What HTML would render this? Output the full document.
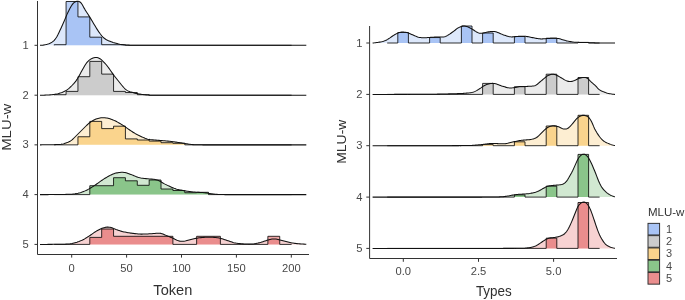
<!DOCTYPE html>
<html><head><meta charset="utf-8"><title>Ridgeline</title>
<style>
html,body{margin:0;padding:0;background:#fff;}
body{width:685px;height:300px;overflow:hidden;}
svg{display:block}
text{font-family:"Liberation Sans",sans-serif;}
.tk{font-size:10px;fill:#484848;}
.ttl{fill:#303030;}
.lt{font-size:11.5px;fill:#333;}
</style></head><body>
<svg width="685" height="300" viewBox="0 0 685 300">
<rect width="685" height="300" fill="#fff"/>
<path d="M40.00,45.30 L41.00,45.30 L42.00,45.25 L43.00,45.13 L44.00,44.98 L45.00,44.80 L46.00,44.60 L47.00,44.37 L48.00,44.07 L49.00,43.70 L50.00,43.25 L51.00,42.74 L52.00,42.14 L53.00,41.45 L54.00,40.57 L55.00,39.44 L56.00,38.06 L57.00,36.41 L58.00,34.50 L59.00,32.43 L60.00,30.32 L61.00,28.16 L62.00,25.96 L63.00,23.72 L64.00,21.44 L65.00,19.09 L66.00,16.71 L67.00,14.40 L68.00,12.24 L69.00,10.23 L70.00,8.30 L71.00,6.50 L72.00,4.92 L73.00,3.60 L74.00,2.60 L75.00,1.94 L76.00,1.52 L77.00,1.29 L78.00,1.26 L79.00,1.47 L80.00,2.01 L81.00,2.93 L82.00,4.30 L83.00,6.04 L84.00,7.88 L85.00,9.60 L86.00,11.19 L87.00,12.76 L88.00,14.32 L89.00,15.90 L90.00,17.50 L91.00,19.14 L92.00,20.80 L93.00,22.48 L94.00,24.17 L95.00,25.85 L96.00,27.50 L97.00,29.11 L98.00,30.65 L99.00,32.11 L100.00,33.50 L101.00,34.80 L102.00,36.00 L103.00,37.08 L104.00,38.01 L105.00,38.80 L106.00,39.48 L107.00,40.04 L108.00,40.50 L109.00,40.91 L110.00,41.31 L111.00,41.69 L112.00,42.05 L113.00,42.39 L114.00,42.70 L115.00,43.00 L116.00,43.29 L117.00,43.58 L118.00,43.85 L119.00,44.09 L120.00,44.30 L121.00,44.47 L122.00,44.62 L123.00,44.75 L124.00,44.86 L125.00,44.94 L126.00,45.00 L127.00,45.05 L128.00,45.09 L129.00,45.14 L130.00,45.18 L131.00,45.21 L132.00,45.24 L133.00,45.27 L134.00,45.29 L135.00,45.30 L136.00,45.30 L137.00,45.30 L138.00,45.30 L139.00,45.30 L140.00,45.30 L141.00,45.30 L142.00,45.30 L143.00,45.30 L144.00,45.30 L145.00,45.30 L146.00,45.30 L147.00,45.30 L148.00,45.30 L149.00,45.30 L150.00,45.30 L151.00,45.30 L152.00,45.30 L153.00,45.30 L154.00,45.30 L155.00,45.30 L156.00,45.30 L157.00,45.30 L158.00,45.30 L159.00,45.30 L160.00,45.30 L161.00,45.30 L162.00,45.30 L163.00,45.30 L164.00,45.30 L165.00,45.30 L166.00,45.30 L167.00,45.30 L168.00,45.30 L169.00,45.30 L170.00,45.30 L171.00,45.30 L172.00,45.30 L173.00,45.30 L174.00,45.30 L175.00,45.30 L176.00,45.30 L177.00,45.30 L178.00,45.30 L179.00,45.30 L180.00,45.30 L181.00,45.30 L182.00,45.30 L183.00,45.30 L184.00,45.30 L185.00,45.30 L186.00,45.30 L187.00,45.30 L188.00,45.30 L189.00,45.30 L190.00,45.30 L191.00,45.30 L192.00,45.30 L193.00,45.30 L194.00,45.30 L195.00,45.30 L196.00,45.30 L197.00,45.30 L198.00,45.30 L199.00,45.30 L200.00,45.30 L201.00,45.30 L202.00,45.30 L203.00,45.30 L204.00,45.30 L205.00,45.30 L206.00,45.30 L207.00,45.30 L208.00,45.30 L209.00,45.30 L210.00,45.30 L211.00,45.30 L212.00,45.30 L213.00,45.30 L214.00,45.30 L215.00,45.30 L216.00,45.30 L217.00,45.30 L218.00,45.30 L219.00,45.30 L220.00,45.30 L221.00,45.30 L222.00,45.30 L223.00,45.30 L224.00,45.30 L225.00,45.30 L226.00,45.30 L227.00,45.30 L228.00,45.30 L229.00,45.30 L230.00,45.30 L231.00,45.30 L232.00,45.30 L233.00,45.30 L234.00,45.30 L235.00,45.30 L236.00,45.30 L237.00,45.30 L238.00,45.30 L239.00,45.30 L240.00,45.30 L241.00,45.30 L242.00,45.30 L243.00,45.30 L244.00,45.30 L245.00,45.30 L246.00,45.30 L247.00,45.30 L248.00,45.30 L249.00,45.30 L250.00,45.30 L251.00,45.30 L252.00,45.30 L253.00,45.30 L254.00,45.30 L255.00,45.30 L256.00,45.30 L257.00,45.30 L258.00,45.30 L259.00,45.30 L260.00,45.30 L261.00,45.30 L262.00,45.30 L263.00,45.30 L264.00,45.30 L265.00,45.30 L266.00,45.30 L267.00,45.30 L268.00,45.30 L269.00,45.30 L270.00,45.30 L271.00,45.30 L272.00,45.30 L273.00,45.30 L274.00,45.30 L275.00,45.30 L276.00,45.30 L277.00,45.30 L278.00,45.30 L279.00,45.30 L280.00,45.30 L281.00,45.30 L282.00,45.30 L283.00,45.30 L284.00,45.30 L285.00,45.30 L286.00,45.30 L287.00,45.30 L288.00,45.30 L289.00,45.30 L290.00,45.30 L291.00,45.30 L292.00,45.30 L293.00,45.30 L294.00,45.30 L295.00,45.30 L296.00,45.30 L297.00,45.30 L298.00,45.30 L299.00,45.30 L300.00,45.30 L301.00,45.30 L302.00,45.30 L303.00,45.30 L304.00,45.30 L305.00,45.30 L306.00,45.30 L306.30,45.30 L306.30,45.30 L40.00,45.30 Z" fill="rgb(100,149,237)" fill-opacity="0.22" stroke="none"/>
<path d="M54.20,45.30 L54.20,45.30 L54.20,44.70 L66.07,44.70 L66.07,1.50 L77.94,1.50 L77.94,16.90 L89.81,16.90 L89.81,37.20 L101.68,37.20 L101.68,44.70 L125.42,44.70 L125.42,45.30 L291.60,45.30 Z" fill="rgb(100,149,237)" fill-opacity="0.43" stroke="none"/>
<path d="M54.20,45.30 L54.20,45.30 L54.20,44.70 L66.07,44.70 L66.07,1.50 L77.94,1.50 L77.94,16.90 L89.81,16.90 L89.81,37.20 L101.68,37.20 L101.68,44.70 L125.42,44.70 L125.42,45.30 L291.60,45.30" fill="none" stroke="#000" stroke-opacity="0.8" stroke-width="1" stroke-linejoin="miter"/>
<path d="M40.00,45.30 L41.00,45.30 L42.00,45.25 L43.00,45.13 L44.00,44.98 L45.00,44.80 L46.00,44.60 L47.00,44.37 L48.00,44.07 L49.00,43.70 L50.00,43.25 L51.00,42.74 L52.00,42.14 L53.00,41.45 L54.00,40.57 L55.00,39.44 L56.00,38.06 L57.00,36.41 L58.00,34.50 L59.00,32.43 L60.00,30.32 L61.00,28.16 L62.00,25.96 L63.00,23.72 L64.00,21.44 L65.00,19.09 L66.00,16.71 L67.00,14.40 L68.00,12.24 L69.00,10.23 L70.00,8.30 L71.00,6.50 L72.00,4.92 L73.00,3.60 L74.00,2.60 L75.00,1.94 L76.00,1.52 L77.00,1.29 L78.00,1.26 L79.00,1.47 L80.00,2.01 L81.00,2.93 L82.00,4.30 L83.00,6.04 L84.00,7.88 L85.00,9.60 L86.00,11.19 L87.00,12.76 L88.00,14.32 L89.00,15.90 L90.00,17.50 L91.00,19.14 L92.00,20.80 L93.00,22.48 L94.00,24.17 L95.00,25.85 L96.00,27.50 L97.00,29.11 L98.00,30.65 L99.00,32.11 L100.00,33.50 L101.00,34.80 L102.00,36.00 L103.00,37.08 L104.00,38.01 L105.00,38.80 L106.00,39.48 L107.00,40.04 L108.00,40.50 L109.00,40.91 L110.00,41.31 L111.00,41.69 L112.00,42.05 L113.00,42.39 L114.00,42.70 L115.00,43.00 L116.00,43.29 L117.00,43.58 L118.00,43.85 L119.00,44.09 L120.00,44.30 L121.00,44.47 L122.00,44.62 L123.00,44.75 L124.00,44.86 L125.00,44.94 L126.00,45.00 L127.00,45.05 L128.00,45.09 L129.00,45.14 L130.00,45.18 L131.00,45.21 L132.00,45.24 L133.00,45.27 L134.00,45.29 L135.00,45.30 L136.00,45.30 L137.00,45.30 L138.00,45.30 L139.00,45.30 L140.00,45.30 L141.00,45.30 L142.00,45.30 L143.00,45.30 L144.00,45.30 L145.00,45.30 L146.00,45.30 L147.00,45.30 L148.00,45.30 L149.00,45.30 L150.00,45.30 L151.00,45.30 L152.00,45.30 L153.00,45.30 L154.00,45.30 L155.00,45.30 L156.00,45.30 L157.00,45.30 L158.00,45.30 L159.00,45.30 L160.00,45.30 L161.00,45.30 L162.00,45.30 L163.00,45.30 L164.00,45.30 L165.00,45.30 L166.00,45.30 L167.00,45.30 L168.00,45.30 L169.00,45.30 L170.00,45.30 L171.00,45.30 L172.00,45.30 L173.00,45.30 L174.00,45.30 L175.00,45.30 L176.00,45.30 L177.00,45.30 L178.00,45.30 L179.00,45.30 L180.00,45.30 L181.00,45.30 L182.00,45.30 L183.00,45.30 L184.00,45.30 L185.00,45.30 L186.00,45.30 L187.00,45.30 L188.00,45.30 L189.00,45.30 L190.00,45.30 L191.00,45.30 L192.00,45.30 L193.00,45.30 L194.00,45.30 L195.00,45.30 L196.00,45.30 L197.00,45.30 L198.00,45.30 L199.00,45.30 L200.00,45.30 L201.00,45.30 L202.00,45.30 L203.00,45.30 L204.00,45.30 L205.00,45.30 L206.00,45.30 L207.00,45.30 L208.00,45.30 L209.00,45.30 L210.00,45.30 L211.00,45.30 L212.00,45.30 L213.00,45.30 L214.00,45.30 L215.00,45.30 L216.00,45.30 L217.00,45.30 L218.00,45.30 L219.00,45.30 L220.00,45.30 L221.00,45.30 L222.00,45.30 L223.00,45.30 L224.00,45.30 L225.00,45.30 L226.00,45.30 L227.00,45.30 L228.00,45.30 L229.00,45.30 L230.00,45.30 L231.00,45.30 L232.00,45.30 L233.00,45.30 L234.00,45.30 L235.00,45.30 L236.00,45.30 L237.00,45.30 L238.00,45.30 L239.00,45.30 L240.00,45.30 L241.00,45.30 L242.00,45.30 L243.00,45.30 L244.00,45.30 L245.00,45.30 L246.00,45.30 L247.00,45.30 L248.00,45.30 L249.00,45.30 L250.00,45.30 L251.00,45.30 L252.00,45.30 L253.00,45.30 L254.00,45.30 L255.00,45.30 L256.00,45.30 L257.00,45.30 L258.00,45.30 L259.00,45.30 L260.00,45.30 L261.00,45.30 L262.00,45.30 L263.00,45.30 L264.00,45.30 L265.00,45.30 L266.00,45.30 L267.00,45.30 L268.00,45.30 L269.00,45.30 L270.00,45.30 L271.00,45.30 L272.00,45.30 L273.00,45.30 L274.00,45.30 L275.00,45.30 L276.00,45.30 L277.00,45.30 L278.00,45.30 L279.00,45.30 L280.00,45.30 L281.00,45.30 L282.00,45.30 L283.00,45.30 L284.00,45.30 L285.00,45.30 L286.00,45.30 L287.00,45.30 L288.00,45.30 L289.00,45.30 L290.00,45.30 L291.00,45.30 L292.00,45.30 L293.00,45.30 L294.00,45.30 L295.00,45.30 L296.00,45.30 L297.00,45.30 L298.00,45.30 L299.00,45.30 L300.00,45.30 L301.00,45.30 L302.00,45.30 L303.00,45.30 L304.00,45.30 L305.00,45.30 L306.00,45.30 L306.30,45.30" fill="none" stroke="#111" stroke-width="1.05" stroke-linejoin="round"/>
<path d="M40.00,95.20 L41.00,95.20 L42.00,95.20 L43.00,95.19 L44.00,95.16 L45.00,95.13 L46.00,95.09 L47.00,95.05 L48.00,95.00 L49.00,94.94 L50.00,94.87 L51.00,94.78 L52.00,94.68 L53.00,94.56 L54.00,94.44 L55.00,94.30 L56.00,94.14 L57.00,93.92 L58.00,93.68 L59.00,93.40 L60.00,93.11 L61.00,92.80 L62.00,92.45 L63.00,92.04 L64.00,91.58 L65.00,91.06 L66.00,90.50 L67.00,89.87 L68.00,89.14 L69.00,88.33 L70.00,87.44 L71.00,86.50 L72.00,85.50 L73.00,84.46 L74.00,83.36 L75.00,82.17 L76.00,80.86 L77.00,79.42 L78.00,77.80 L79.00,76.03 L80.00,74.18 L81.00,72.31 L82.00,70.50 L83.00,68.74 L84.00,67.01 L85.00,65.33 L86.00,63.74 L87.00,62.39 L88.00,61.29 L89.00,60.38 L90.00,59.60 L91.00,58.93 L92.00,58.40 L93.00,58.00 L94.00,57.72 L95.00,57.55 L96.00,57.50 L97.00,57.58 L98.00,57.82 L99.00,58.20 L100.00,58.74 L101.00,59.43 L102.00,60.30 L103.00,61.28 L104.00,62.30 L105.00,63.37 L106.00,64.51 L107.00,65.71 L108.00,67.00 L109.00,68.37 L110.00,69.79 L111.00,71.23 L112.00,72.67 L113.00,74.09 L114.00,75.44 L115.00,76.73 L116.00,78.00 L117.00,79.26 L118.00,80.52 L119.00,81.76 L120.00,83.00 L121.00,84.24 L122.00,85.46 L123.00,86.64 L124.00,87.76 L125.00,88.80 L126.00,89.68 L127.00,90.37 L128.00,90.91 L129.00,91.34 L130.00,91.69 L131.00,92.00 L132.00,92.31 L133.00,92.61 L134.00,92.89 L135.00,93.16 L136.00,93.40 L137.00,93.60 L138.00,93.78 L139.00,93.96 L140.00,94.14 L141.00,94.30 L142.00,94.45 L143.00,94.58 L144.00,94.70 L145.00,94.80 L146.00,94.89 L147.00,94.98 L148.00,95.05 L149.00,95.11 L150.00,95.16 L151.00,95.20 L152.00,95.20 L153.00,95.20 L154.00,95.20 L155.00,95.20 L156.00,95.20 L157.00,95.20 L158.00,95.20 L159.00,95.20 L160.00,95.20 L161.00,95.20 L162.00,95.20 L163.00,95.20 L164.00,95.20 L165.00,95.20 L166.00,95.20 L167.00,95.20 L168.00,95.20 L169.00,95.20 L170.00,95.20 L171.00,95.20 L172.00,95.20 L173.00,95.20 L174.00,95.20 L175.00,95.20 L176.00,95.20 L177.00,95.20 L178.00,95.20 L179.00,95.20 L180.00,95.20 L181.00,95.20 L182.00,95.20 L183.00,95.20 L184.00,95.20 L185.00,95.20 L186.00,95.20 L187.00,95.20 L188.00,95.20 L189.00,95.20 L190.00,95.20 L191.00,95.20 L192.00,95.20 L193.00,95.20 L194.00,95.20 L195.00,95.20 L196.00,95.20 L197.00,95.20 L198.00,95.20 L199.00,95.20 L200.00,95.20 L201.00,95.20 L202.00,95.20 L203.00,95.20 L204.00,95.20 L205.00,95.20 L206.00,95.20 L207.00,95.20 L208.00,95.20 L209.00,95.20 L210.00,95.20 L211.00,95.20 L212.00,95.20 L213.00,95.20 L214.00,95.20 L215.00,95.20 L216.00,95.20 L217.00,95.20 L218.00,95.20 L219.00,95.20 L220.00,95.20 L221.00,95.20 L222.00,95.20 L223.00,95.20 L224.00,95.20 L225.00,95.20 L226.00,95.20 L227.00,95.20 L228.00,95.20 L229.00,95.20 L230.00,95.20 L231.00,95.20 L232.00,95.20 L233.00,95.20 L234.00,95.20 L235.00,95.20 L236.00,95.20 L237.00,95.20 L238.00,95.20 L239.00,95.20 L240.00,95.20 L241.00,95.20 L242.00,95.20 L243.00,95.20 L244.00,95.20 L245.00,95.20 L246.00,95.20 L247.00,95.20 L248.00,95.20 L249.00,95.20 L250.00,95.20 L251.00,95.20 L252.00,95.20 L253.00,95.20 L254.00,95.20 L255.00,95.20 L256.00,95.20 L257.00,95.20 L258.00,95.20 L259.00,95.20 L260.00,95.20 L261.00,95.20 L262.00,95.20 L263.00,95.20 L264.00,95.20 L265.00,95.20 L266.00,95.20 L267.00,95.20 L268.00,95.20 L269.00,95.20 L270.00,95.20 L271.00,95.20 L272.00,95.20 L273.00,95.20 L274.00,95.20 L275.00,95.20 L276.00,95.20 L277.00,95.20 L278.00,95.20 L279.00,95.20 L280.00,95.20 L281.00,95.20 L282.00,95.20 L283.00,95.20 L284.00,95.20 L285.00,95.20 L286.00,95.20 L287.00,95.20 L288.00,95.20 L289.00,95.20 L290.00,95.20 L291.00,95.20 L292.00,95.20 L293.00,95.20 L294.00,95.20 L295.00,95.20 L296.00,95.20 L297.00,95.20 L298.00,95.20 L299.00,95.20 L300.00,95.20 L301.00,95.20 L302.00,95.20 L303.00,95.20 L304.00,95.20 L305.00,95.20 L306.00,95.20 L306.30,95.20 L306.30,95.20 L40.00,95.20 Z" fill="rgb(163,163,163)" fill-opacity="0.22" stroke="none"/>
<path d="M54.20,95.20 L54.20,95.20 L54.20,94.70 L66.07,94.70 L66.07,91.40 L77.94,91.40 L77.94,76.70 L89.81,76.70 L89.81,61.40 L101.68,61.40 L101.68,74.10 L113.55,74.10 L113.55,91.40 L125.42,91.40 L125.42,92.50 L137.29,92.50 L137.29,94.70 L149.16,94.70 L149.16,95.20 L291.60,95.20 Z" fill="rgb(163,163,163)" fill-opacity="0.43" stroke="none"/>
<path d="M54.20,95.20 L54.20,95.20 L54.20,94.70 L66.07,94.70 L66.07,91.40 L77.94,91.40 L77.94,76.70 L89.81,76.70 L89.81,61.40 L101.68,61.40 L101.68,74.10 L113.55,74.10 L113.55,91.40 L125.42,91.40 L125.42,92.50 L137.29,92.50 L137.29,94.70 L149.16,94.70 L149.16,95.20 L291.60,95.20" fill="none" stroke="#000" stroke-opacity="0.8" stroke-width="1" stroke-linejoin="miter"/>
<path d="M40.00,95.20 L41.00,95.20 L42.00,95.20 L43.00,95.19 L44.00,95.16 L45.00,95.13 L46.00,95.09 L47.00,95.05 L48.00,95.00 L49.00,94.94 L50.00,94.87 L51.00,94.78 L52.00,94.68 L53.00,94.56 L54.00,94.44 L55.00,94.30 L56.00,94.14 L57.00,93.92 L58.00,93.68 L59.00,93.40 L60.00,93.11 L61.00,92.80 L62.00,92.45 L63.00,92.04 L64.00,91.58 L65.00,91.06 L66.00,90.50 L67.00,89.87 L68.00,89.14 L69.00,88.33 L70.00,87.44 L71.00,86.50 L72.00,85.50 L73.00,84.46 L74.00,83.36 L75.00,82.17 L76.00,80.86 L77.00,79.42 L78.00,77.80 L79.00,76.03 L80.00,74.18 L81.00,72.31 L82.00,70.50 L83.00,68.74 L84.00,67.01 L85.00,65.33 L86.00,63.74 L87.00,62.39 L88.00,61.29 L89.00,60.38 L90.00,59.60 L91.00,58.93 L92.00,58.40 L93.00,58.00 L94.00,57.72 L95.00,57.55 L96.00,57.50 L97.00,57.58 L98.00,57.82 L99.00,58.20 L100.00,58.74 L101.00,59.43 L102.00,60.30 L103.00,61.28 L104.00,62.30 L105.00,63.37 L106.00,64.51 L107.00,65.71 L108.00,67.00 L109.00,68.37 L110.00,69.79 L111.00,71.23 L112.00,72.67 L113.00,74.09 L114.00,75.44 L115.00,76.73 L116.00,78.00 L117.00,79.26 L118.00,80.52 L119.00,81.76 L120.00,83.00 L121.00,84.24 L122.00,85.46 L123.00,86.64 L124.00,87.76 L125.00,88.80 L126.00,89.68 L127.00,90.37 L128.00,90.91 L129.00,91.34 L130.00,91.69 L131.00,92.00 L132.00,92.31 L133.00,92.61 L134.00,92.89 L135.00,93.16 L136.00,93.40 L137.00,93.60 L138.00,93.78 L139.00,93.96 L140.00,94.14 L141.00,94.30 L142.00,94.45 L143.00,94.58 L144.00,94.70 L145.00,94.80 L146.00,94.89 L147.00,94.98 L148.00,95.05 L149.00,95.11 L150.00,95.16 L151.00,95.20 L152.00,95.20 L153.00,95.20 L154.00,95.20 L155.00,95.20 L156.00,95.20 L157.00,95.20 L158.00,95.20 L159.00,95.20 L160.00,95.20 L161.00,95.20 L162.00,95.20 L163.00,95.20 L164.00,95.20 L165.00,95.20 L166.00,95.20 L167.00,95.20 L168.00,95.20 L169.00,95.20 L170.00,95.20 L171.00,95.20 L172.00,95.20 L173.00,95.20 L174.00,95.20 L175.00,95.20 L176.00,95.20 L177.00,95.20 L178.00,95.20 L179.00,95.20 L180.00,95.20 L181.00,95.20 L182.00,95.20 L183.00,95.20 L184.00,95.20 L185.00,95.20 L186.00,95.20 L187.00,95.20 L188.00,95.20 L189.00,95.20 L190.00,95.20 L191.00,95.20 L192.00,95.20 L193.00,95.20 L194.00,95.20 L195.00,95.20 L196.00,95.20 L197.00,95.20 L198.00,95.20 L199.00,95.20 L200.00,95.20 L201.00,95.20 L202.00,95.20 L203.00,95.20 L204.00,95.20 L205.00,95.20 L206.00,95.20 L207.00,95.20 L208.00,95.20 L209.00,95.20 L210.00,95.20 L211.00,95.20 L212.00,95.20 L213.00,95.20 L214.00,95.20 L215.00,95.20 L216.00,95.20 L217.00,95.20 L218.00,95.20 L219.00,95.20 L220.00,95.20 L221.00,95.20 L222.00,95.20 L223.00,95.20 L224.00,95.20 L225.00,95.20 L226.00,95.20 L227.00,95.20 L228.00,95.20 L229.00,95.20 L230.00,95.20 L231.00,95.20 L232.00,95.20 L233.00,95.20 L234.00,95.20 L235.00,95.20 L236.00,95.20 L237.00,95.20 L238.00,95.20 L239.00,95.20 L240.00,95.20 L241.00,95.20 L242.00,95.20 L243.00,95.20 L244.00,95.20 L245.00,95.20 L246.00,95.20 L247.00,95.20 L248.00,95.20 L249.00,95.20 L250.00,95.20 L251.00,95.20 L252.00,95.20 L253.00,95.20 L254.00,95.20 L255.00,95.20 L256.00,95.20 L257.00,95.20 L258.00,95.20 L259.00,95.20 L260.00,95.20 L261.00,95.20 L262.00,95.20 L263.00,95.20 L264.00,95.20 L265.00,95.20 L266.00,95.20 L267.00,95.20 L268.00,95.20 L269.00,95.20 L270.00,95.20 L271.00,95.20 L272.00,95.20 L273.00,95.20 L274.00,95.20 L275.00,95.20 L276.00,95.20 L277.00,95.20 L278.00,95.20 L279.00,95.20 L280.00,95.20 L281.00,95.20 L282.00,95.20 L283.00,95.20 L284.00,95.20 L285.00,95.20 L286.00,95.20 L287.00,95.20 L288.00,95.20 L289.00,95.20 L290.00,95.20 L291.00,95.20 L292.00,95.20 L293.00,95.20 L294.00,95.20 L295.00,95.20 L296.00,95.20 L297.00,95.20 L298.00,95.20 L299.00,95.20 L300.00,95.20 L301.00,95.20 L302.00,95.20 L303.00,95.20 L304.00,95.20 L305.00,95.20 L306.00,95.20 L306.30,95.20" fill="none" stroke="#111" stroke-width="1.05" stroke-linejoin="round"/>
<path d="M40.00,144.85 L41.00,144.85 L42.00,144.84 L43.00,144.84 L44.00,144.82 L45.00,144.81 L46.00,144.80 L47.00,144.78 L48.00,144.77 L49.00,144.75 L50.00,144.73 L51.00,144.72 L52.00,144.70 L53.00,144.68 L54.00,144.66 L55.00,144.62 L56.00,144.59 L57.00,144.55 L58.00,144.50 L59.00,144.45 L60.00,144.40 L61.00,144.31 L62.00,144.14 L63.00,143.92 L64.00,143.64 L65.00,143.31 L66.00,142.96 L67.00,142.59 L68.00,142.18 L69.00,141.73 L70.00,141.21 L71.00,140.60 L72.00,139.86 L73.00,138.99 L74.00,138.00 L75.00,137.00 L76.00,136.00 L77.00,135.00 L78.00,134.00 L79.00,133.00 L80.00,132.00 L81.00,131.00 L82.00,130.00 L83.00,129.00 L84.00,128.00 L85.00,127.00 L86.00,126.00 L87.00,125.01 L88.00,124.10 L89.00,123.28 L90.00,122.52 L91.00,121.78 L92.00,121.09 L93.00,120.48 L94.00,119.93 L95.00,119.47 L96.00,119.07 L97.00,118.73 L98.00,118.44 L99.00,118.20 L100.00,118.00 L101.00,117.84 L102.00,117.72 L103.00,117.68 L104.00,117.70 L105.00,117.79 L106.00,117.92 L107.00,118.09 L108.00,118.30 L109.00,118.56 L110.00,118.86 L111.00,119.21 L112.00,119.58 L113.00,119.97 L114.00,120.39 L115.00,120.84 L116.00,121.32 L117.00,121.84 L118.00,122.39 L119.00,122.95 L120.00,123.52 L121.00,124.11 L122.00,124.72 L123.00,125.35 L124.00,126.00 L125.00,126.68 L126.00,127.38 L127.00,128.10 L128.00,128.82 L129.00,129.54 L130.00,130.23 L131.00,130.90 L132.00,131.55 L133.00,132.19 L134.00,132.81 L135.00,133.42 L136.00,134.00 L137.00,134.54 L138.00,135.05 L139.00,135.53 L140.00,136.00 L141.00,136.46 L142.00,136.91 L143.00,137.36 L144.00,137.79 L145.00,138.20 L146.00,138.58 L147.00,138.91 L148.00,139.18 L149.00,139.39 L150.00,139.55 L151.00,139.66 L152.00,139.76 L153.00,139.86 L154.00,139.96 L155.00,140.05 L156.00,140.13 L157.00,140.22 L158.00,140.30 L159.00,140.38 L160.00,140.45 L161.00,140.53 L162.00,140.60 L163.00,140.67 L164.00,140.75 L165.00,140.83 L166.00,140.92 L167.00,141.01 L168.00,141.11 L169.00,141.22 L170.00,141.33 L171.00,141.45 L172.00,141.57 L173.00,141.70 L174.00,141.83 L175.00,141.97 L176.00,142.11 L177.00,142.26 L178.00,142.40 L179.00,142.55 L180.00,142.70 L181.00,142.85 L182.00,143.01 L183.00,143.18 L184.00,143.35 L185.00,143.52 L186.00,143.68 L187.00,143.84 L188.00,144.00 L189.00,144.15 L190.00,144.29 L191.00,144.42 L192.00,144.54 L193.00,144.64 L194.00,144.72 L195.00,144.77 L196.00,144.80 L197.00,144.81 L198.00,144.82 L199.00,144.83 L200.00,144.84 L201.00,144.84 L202.00,144.85 L203.00,144.85 L204.00,144.85 L205.00,144.85 L206.00,144.85 L207.00,144.85 L208.00,144.85 L209.00,144.85 L210.00,144.85 L211.00,144.85 L212.00,144.85 L213.00,144.85 L214.00,144.85 L215.00,144.85 L216.00,144.85 L217.00,144.85 L218.00,144.85 L219.00,144.85 L220.00,144.85 L221.00,144.85 L222.00,144.85 L223.00,144.85 L224.00,144.85 L225.00,144.85 L226.00,144.85 L227.00,144.85 L228.00,144.85 L229.00,144.85 L230.00,144.85 L231.00,144.85 L232.00,144.85 L233.00,144.85 L234.00,144.85 L235.00,144.85 L236.00,144.85 L237.00,144.85 L238.00,144.85 L239.00,144.85 L240.00,144.85 L241.00,144.85 L242.00,144.85 L243.00,144.85 L244.00,144.85 L245.00,144.85 L246.00,144.85 L247.00,144.85 L248.00,144.85 L249.00,144.85 L250.00,144.85 L251.00,144.85 L252.00,144.85 L253.00,144.85 L254.00,144.85 L255.00,144.85 L256.00,144.85 L257.00,144.85 L258.00,144.85 L259.00,144.85 L260.00,144.85 L261.00,144.85 L262.00,144.85 L263.00,144.85 L264.00,144.85 L265.00,144.85 L266.00,144.85 L267.00,144.85 L268.00,144.85 L269.00,144.85 L270.00,144.85 L271.00,144.85 L272.00,144.85 L273.00,144.85 L274.00,144.85 L275.00,144.85 L276.00,144.85 L277.00,144.85 L278.00,144.85 L279.00,144.85 L280.00,144.85 L281.00,144.85 L282.00,144.85 L283.00,144.85 L284.00,144.85 L285.00,144.85 L286.00,144.85 L287.00,144.85 L288.00,144.85 L289.00,144.85 L290.00,144.85 L291.00,144.85 L292.00,144.85 L293.00,144.85 L294.00,144.85 L295.00,144.85 L296.00,144.85 L297.00,144.85 L298.00,144.85 L299.00,144.85 L300.00,144.85 L301.00,144.85 L302.00,144.85 L303.00,144.85 L304.00,144.85 L305.00,144.85 L306.00,144.85 L306.30,144.85 L306.30,144.85 L40.00,144.85 Z" fill="rgb(246,178,50)" fill-opacity="0.22" stroke="none"/>
<path d="M54.20,144.85 L77.94,144.85 L77.94,136.75 L89.81,136.75 L89.81,121.40 L101.68,121.40 L101.68,128.60 L113.55,128.60 L113.55,126.20 L125.42,126.20 L125.42,138.90 L137.29,138.90 L137.29,140.00 L149.16,140.00 L149.16,141.10 L161.03,141.10 L161.03,142.70 L172.90,142.70 L172.90,143.30 L184.77,143.30 L184.77,144.85 L291.60,144.85 Z" fill="rgb(246,178,50)" fill-opacity="0.43" stroke="none"/>
<path d="M54.20,144.85 L77.94,144.85 L77.94,136.75 L89.81,136.75 L89.81,121.40 L101.68,121.40 L101.68,128.60 L113.55,128.60 L113.55,126.20 L125.42,126.20 L125.42,138.90 L137.29,138.90 L137.29,140.00 L149.16,140.00 L149.16,141.10 L161.03,141.10 L161.03,142.70 L172.90,142.70 L172.90,143.30 L184.77,143.30 L184.77,144.85 L291.60,144.85" fill="none" stroke="#000" stroke-opacity="0.8" stroke-width="1" stroke-linejoin="miter"/>
<path d="M40.00,144.85 L41.00,144.85 L42.00,144.84 L43.00,144.84 L44.00,144.82 L45.00,144.81 L46.00,144.80 L47.00,144.78 L48.00,144.77 L49.00,144.75 L50.00,144.73 L51.00,144.72 L52.00,144.70 L53.00,144.68 L54.00,144.66 L55.00,144.62 L56.00,144.59 L57.00,144.55 L58.00,144.50 L59.00,144.45 L60.00,144.40 L61.00,144.31 L62.00,144.14 L63.00,143.92 L64.00,143.64 L65.00,143.31 L66.00,142.96 L67.00,142.59 L68.00,142.18 L69.00,141.73 L70.00,141.21 L71.00,140.60 L72.00,139.86 L73.00,138.99 L74.00,138.00 L75.00,137.00 L76.00,136.00 L77.00,135.00 L78.00,134.00 L79.00,133.00 L80.00,132.00 L81.00,131.00 L82.00,130.00 L83.00,129.00 L84.00,128.00 L85.00,127.00 L86.00,126.00 L87.00,125.01 L88.00,124.10 L89.00,123.28 L90.00,122.52 L91.00,121.78 L92.00,121.09 L93.00,120.48 L94.00,119.93 L95.00,119.47 L96.00,119.07 L97.00,118.73 L98.00,118.44 L99.00,118.20 L100.00,118.00 L101.00,117.84 L102.00,117.72 L103.00,117.68 L104.00,117.70 L105.00,117.79 L106.00,117.92 L107.00,118.09 L108.00,118.30 L109.00,118.56 L110.00,118.86 L111.00,119.21 L112.00,119.58 L113.00,119.97 L114.00,120.39 L115.00,120.84 L116.00,121.32 L117.00,121.84 L118.00,122.39 L119.00,122.95 L120.00,123.52 L121.00,124.11 L122.00,124.72 L123.00,125.35 L124.00,126.00 L125.00,126.68 L126.00,127.38 L127.00,128.10 L128.00,128.82 L129.00,129.54 L130.00,130.23 L131.00,130.90 L132.00,131.55 L133.00,132.19 L134.00,132.81 L135.00,133.42 L136.00,134.00 L137.00,134.54 L138.00,135.05 L139.00,135.53 L140.00,136.00 L141.00,136.46 L142.00,136.91 L143.00,137.36 L144.00,137.79 L145.00,138.20 L146.00,138.58 L147.00,138.91 L148.00,139.18 L149.00,139.39 L150.00,139.55 L151.00,139.66 L152.00,139.76 L153.00,139.86 L154.00,139.96 L155.00,140.05 L156.00,140.13 L157.00,140.22 L158.00,140.30 L159.00,140.38 L160.00,140.45 L161.00,140.53 L162.00,140.60 L163.00,140.67 L164.00,140.75 L165.00,140.83 L166.00,140.92 L167.00,141.01 L168.00,141.11 L169.00,141.22 L170.00,141.33 L171.00,141.45 L172.00,141.57 L173.00,141.70 L174.00,141.83 L175.00,141.97 L176.00,142.11 L177.00,142.26 L178.00,142.40 L179.00,142.55 L180.00,142.70 L181.00,142.85 L182.00,143.01 L183.00,143.18 L184.00,143.35 L185.00,143.52 L186.00,143.68 L187.00,143.84 L188.00,144.00 L189.00,144.15 L190.00,144.29 L191.00,144.42 L192.00,144.54 L193.00,144.64 L194.00,144.72 L195.00,144.77 L196.00,144.80 L197.00,144.81 L198.00,144.82 L199.00,144.83 L200.00,144.84 L201.00,144.84 L202.00,144.85 L203.00,144.85 L204.00,144.85 L205.00,144.85 L206.00,144.85 L207.00,144.85 L208.00,144.85 L209.00,144.85 L210.00,144.85 L211.00,144.85 L212.00,144.85 L213.00,144.85 L214.00,144.85 L215.00,144.85 L216.00,144.85 L217.00,144.85 L218.00,144.85 L219.00,144.85 L220.00,144.85 L221.00,144.85 L222.00,144.85 L223.00,144.85 L224.00,144.85 L225.00,144.85 L226.00,144.85 L227.00,144.85 L228.00,144.85 L229.00,144.85 L230.00,144.85 L231.00,144.85 L232.00,144.85 L233.00,144.85 L234.00,144.85 L235.00,144.85 L236.00,144.85 L237.00,144.85 L238.00,144.85 L239.00,144.85 L240.00,144.85 L241.00,144.85 L242.00,144.85 L243.00,144.85 L244.00,144.85 L245.00,144.85 L246.00,144.85 L247.00,144.85 L248.00,144.85 L249.00,144.85 L250.00,144.85 L251.00,144.85 L252.00,144.85 L253.00,144.85 L254.00,144.85 L255.00,144.85 L256.00,144.85 L257.00,144.85 L258.00,144.85 L259.00,144.85 L260.00,144.85 L261.00,144.85 L262.00,144.85 L263.00,144.85 L264.00,144.85 L265.00,144.85 L266.00,144.85 L267.00,144.85 L268.00,144.85 L269.00,144.85 L270.00,144.85 L271.00,144.85 L272.00,144.85 L273.00,144.85 L274.00,144.85 L275.00,144.85 L276.00,144.85 L277.00,144.85 L278.00,144.85 L279.00,144.85 L280.00,144.85 L281.00,144.85 L282.00,144.85 L283.00,144.85 L284.00,144.85 L285.00,144.85 L286.00,144.85 L287.00,144.85 L288.00,144.85 L289.00,144.85 L290.00,144.85 L291.00,144.85 L292.00,144.85 L293.00,144.85 L294.00,144.85 L295.00,144.85 L296.00,144.85 L297.00,144.85 L298.00,144.85 L299.00,144.85 L300.00,144.85 L301.00,144.85 L302.00,144.85 L303.00,144.85 L304.00,144.85 L305.00,144.85 L306.00,144.85 L306.30,144.85" fill="none" stroke="#111" stroke-width="1.05" stroke-linejoin="round"/>
<path d="M40.00,194.60 L41.00,194.60 L42.00,194.60 L43.00,194.60 L44.00,194.60 L45.00,194.60 L46.00,194.60 L47.00,194.60 L48.00,194.60 L49.00,194.59 L50.00,194.59 L51.00,194.58 L52.00,194.57 L53.00,194.56 L54.00,194.55 L55.00,194.54 L56.00,194.53 L57.00,194.53 L58.00,194.52 L59.00,194.51 L60.00,194.50 L61.00,194.49 L62.00,194.47 L63.00,194.45 L64.00,194.43 L65.00,194.41 L66.00,194.38 L67.00,194.34 L68.00,194.31 L69.00,194.27 L70.00,194.24 L71.00,194.20 L72.00,194.15 L73.00,194.06 L74.00,193.95 L75.00,193.81 L76.00,193.64 L77.00,193.44 L78.00,193.22 L79.00,192.97 L80.00,192.70 L81.00,192.40 L82.00,192.07 L83.00,191.70 L84.00,191.31 L85.00,190.88 L86.00,190.42 L87.00,189.93 L88.00,189.41 L89.00,188.86 L90.00,188.28 L91.00,187.69 L92.00,187.09 L93.00,186.47 L94.00,185.83 L95.00,185.17 L96.00,184.50 L97.00,183.80 L98.00,183.08 L99.00,182.36 L100.00,181.63 L101.00,180.92 L102.00,180.23 L103.00,179.57 L104.00,178.92 L105.00,178.30 L106.00,177.69 L107.00,177.09 L108.00,176.50 L109.00,175.93 L110.00,175.40 L111.00,174.91 L112.00,174.45 L113.00,174.03 L114.00,173.66 L115.00,173.35 L116.00,173.09 L117.00,172.88 L118.00,172.70 L119.00,172.54 L120.00,172.42 L121.00,172.34 L122.00,172.30 L123.00,172.32 L124.00,172.40 L125.00,172.55 L126.00,172.80 L127.00,173.11 L128.00,173.44 L129.00,173.78 L130.00,174.14 L131.00,174.50 L132.00,174.88 L133.00,175.29 L134.00,175.70 L135.00,176.12 L136.00,176.53 L137.00,176.91 L138.00,177.27 L139.00,177.58 L140.00,177.82 L141.00,178.02 L142.00,178.17 L143.00,178.30 L144.00,178.42 L145.00,178.53 L146.00,178.64 L147.00,178.74 L148.00,178.84 L149.00,178.94 L150.00,179.01 L151.00,179.07 L152.00,179.13 L153.00,179.20 L154.00,179.30 L155.00,179.45 L156.00,179.65 L157.00,179.92 L158.00,180.26 L159.00,180.69 L160.00,181.22 L161.00,181.81 L162.00,182.43 L163.00,183.05 L164.00,183.63 L165.00,184.15 L166.00,184.63 L167.00,185.12 L168.00,185.60 L169.00,186.07 L170.00,186.53 L171.00,186.98 L172.00,187.42 L173.00,187.84 L174.00,188.23 L175.00,188.58 L176.00,188.91 L177.00,189.20 L178.00,189.46 L179.00,189.70 L180.00,189.92 L181.00,190.12 L182.00,190.31 L183.00,190.49 L184.00,190.67 L185.00,190.84 L186.00,191.00 L187.00,191.16 L188.00,191.33 L189.00,191.49 L190.00,191.63 L191.00,191.76 L192.00,191.86 L193.00,191.94 L194.00,192.02 L195.00,192.10 L196.00,192.16 L197.00,192.23 L198.00,192.30 L199.00,192.36 L200.00,192.42 L201.00,192.47 L202.00,192.53 L203.00,192.59 L204.00,192.66 L205.00,192.75 L206.00,192.89 L207.00,193.07 L208.00,193.26 L209.00,193.44 L210.00,193.60 L211.00,193.74 L212.00,193.87 L213.00,194.00 L214.00,194.11 L215.00,194.21 L216.00,194.30 L217.00,194.37 L218.00,194.43 L219.00,194.48 L220.00,194.52 L221.00,194.55 L222.00,194.57 L223.00,194.59 L224.00,194.60 L225.00,194.60 L226.00,194.60 L227.00,194.60 L228.00,194.60 L229.00,194.60 L230.00,194.60 L231.00,194.60 L232.00,194.60 L233.00,194.60 L234.00,194.60 L235.00,194.60 L236.00,194.60 L237.00,194.60 L238.00,194.60 L239.00,194.60 L240.00,194.60 L241.00,194.60 L242.00,194.60 L243.00,194.60 L244.00,194.60 L245.00,194.60 L246.00,194.60 L247.00,194.60 L248.00,194.60 L249.00,194.60 L250.00,194.60 L251.00,194.60 L252.00,194.60 L253.00,194.60 L254.00,194.60 L255.00,194.60 L256.00,194.60 L257.00,194.60 L258.00,194.60 L259.00,194.60 L260.00,194.60 L261.00,194.60 L262.00,194.60 L263.00,194.60 L264.00,194.60 L265.00,194.60 L266.00,194.60 L267.00,194.60 L268.00,194.60 L269.00,194.60 L270.00,194.60 L271.00,194.60 L272.00,194.60 L273.00,194.60 L274.00,194.60 L275.00,194.60 L276.00,194.60 L277.00,194.60 L278.00,194.60 L279.00,194.60 L280.00,194.60 L281.00,194.60 L282.00,194.60 L283.00,194.60 L284.00,194.60 L285.00,194.60 L286.00,194.60 L287.00,194.60 L288.00,194.60 L289.00,194.60 L290.00,194.60 L291.00,194.60 L292.00,194.60 L293.00,194.60 L294.00,194.60 L295.00,194.60 L296.00,194.60 L297.00,194.60 L298.00,194.60 L299.00,194.60 L300.00,194.60 L301.00,194.60 L302.00,194.60 L303.00,194.60 L304.00,194.60 L305.00,194.60 L306.00,194.60 L306.30,194.60 L306.30,194.60 L40.00,194.60 Z" fill="rgb(45,150,45)" fill-opacity="0.22" stroke="none"/>
<path d="M54.20,194.60 L89.81,194.60 L89.81,185.70 L113.55,185.70 L113.55,177.70 L125.42,177.70 L125.42,180.80 L137.29,180.80 L137.29,185.30 L149.16,185.30 L149.16,180.00 L161.03,180.00 L161.03,189.00 L172.90,189.00 L172.90,190.50 L184.77,190.50 L184.77,192.70 L196.64,192.70 L196.64,192.30 L208.51,192.30 L208.51,194.60 L291.60,194.60 Z" fill="rgb(45,150,45)" fill-opacity="0.43" stroke="none"/>
<path d="M54.20,194.60 L89.81,194.60 L89.81,185.70 L113.55,185.70 L113.55,177.70 L125.42,177.70 L125.42,180.80 L137.29,180.80 L137.29,185.30 L149.16,185.30 L149.16,180.00 L161.03,180.00 L161.03,189.00 L172.90,189.00 L172.90,190.50 L184.77,190.50 L184.77,192.70 L196.64,192.70 L196.64,192.30 L208.51,192.30 L208.51,194.60 L291.60,194.60" fill="none" stroke="#000" stroke-opacity="0.8" stroke-width="1" stroke-linejoin="miter"/>
<path d="M40.00,194.60 L41.00,194.60 L42.00,194.60 L43.00,194.60 L44.00,194.60 L45.00,194.60 L46.00,194.60 L47.00,194.60 L48.00,194.60 L49.00,194.59 L50.00,194.59 L51.00,194.58 L52.00,194.57 L53.00,194.56 L54.00,194.55 L55.00,194.54 L56.00,194.53 L57.00,194.53 L58.00,194.52 L59.00,194.51 L60.00,194.50 L61.00,194.49 L62.00,194.47 L63.00,194.45 L64.00,194.43 L65.00,194.41 L66.00,194.38 L67.00,194.34 L68.00,194.31 L69.00,194.27 L70.00,194.24 L71.00,194.20 L72.00,194.15 L73.00,194.06 L74.00,193.95 L75.00,193.81 L76.00,193.64 L77.00,193.44 L78.00,193.22 L79.00,192.97 L80.00,192.70 L81.00,192.40 L82.00,192.07 L83.00,191.70 L84.00,191.31 L85.00,190.88 L86.00,190.42 L87.00,189.93 L88.00,189.41 L89.00,188.86 L90.00,188.28 L91.00,187.69 L92.00,187.09 L93.00,186.47 L94.00,185.83 L95.00,185.17 L96.00,184.50 L97.00,183.80 L98.00,183.08 L99.00,182.36 L100.00,181.63 L101.00,180.92 L102.00,180.23 L103.00,179.57 L104.00,178.92 L105.00,178.30 L106.00,177.69 L107.00,177.09 L108.00,176.50 L109.00,175.93 L110.00,175.40 L111.00,174.91 L112.00,174.45 L113.00,174.03 L114.00,173.66 L115.00,173.35 L116.00,173.09 L117.00,172.88 L118.00,172.70 L119.00,172.54 L120.00,172.42 L121.00,172.34 L122.00,172.30 L123.00,172.32 L124.00,172.40 L125.00,172.55 L126.00,172.80 L127.00,173.11 L128.00,173.44 L129.00,173.78 L130.00,174.14 L131.00,174.50 L132.00,174.88 L133.00,175.29 L134.00,175.70 L135.00,176.12 L136.00,176.53 L137.00,176.91 L138.00,177.27 L139.00,177.58 L140.00,177.82 L141.00,178.02 L142.00,178.17 L143.00,178.30 L144.00,178.42 L145.00,178.53 L146.00,178.64 L147.00,178.74 L148.00,178.84 L149.00,178.94 L150.00,179.01 L151.00,179.07 L152.00,179.13 L153.00,179.20 L154.00,179.30 L155.00,179.45 L156.00,179.65 L157.00,179.92 L158.00,180.26 L159.00,180.69 L160.00,181.22 L161.00,181.81 L162.00,182.43 L163.00,183.05 L164.00,183.63 L165.00,184.15 L166.00,184.63 L167.00,185.12 L168.00,185.60 L169.00,186.07 L170.00,186.53 L171.00,186.98 L172.00,187.42 L173.00,187.84 L174.00,188.23 L175.00,188.58 L176.00,188.91 L177.00,189.20 L178.00,189.46 L179.00,189.70 L180.00,189.92 L181.00,190.12 L182.00,190.31 L183.00,190.49 L184.00,190.67 L185.00,190.84 L186.00,191.00 L187.00,191.16 L188.00,191.33 L189.00,191.49 L190.00,191.63 L191.00,191.76 L192.00,191.86 L193.00,191.94 L194.00,192.02 L195.00,192.10 L196.00,192.16 L197.00,192.23 L198.00,192.30 L199.00,192.36 L200.00,192.42 L201.00,192.47 L202.00,192.53 L203.00,192.59 L204.00,192.66 L205.00,192.75 L206.00,192.89 L207.00,193.07 L208.00,193.26 L209.00,193.44 L210.00,193.60 L211.00,193.74 L212.00,193.87 L213.00,194.00 L214.00,194.11 L215.00,194.21 L216.00,194.30 L217.00,194.37 L218.00,194.43 L219.00,194.48 L220.00,194.52 L221.00,194.55 L222.00,194.57 L223.00,194.59 L224.00,194.60 L225.00,194.60 L226.00,194.60 L227.00,194.60 L228.00,194.60 L229.00,194.60 L230.00,194.60 L231.00,194.60 L232.00,194.60 L233.00,194.60 L234.00,194.60 L235.00,194.60 L236.00,194.60 L237.00,194.60 L238.00,194.60 L239.00,194.60 L240.00,194.60 L241.00,194.60 L242.00,194.60 L243.00,194.60 L244.00,194.60 L245.00,194.60 L246.00,194.60 L247.00,194.60 L248.00,194.60 L249.00,194.60 L250.00,194.60 L251.00,194.60 L252.00,194.60 L253.00,194.60 L254.00,194.60 L255.00,194.60 L256.00,194.60 L257.00,194.60 L258.00,194.60 L259.00,194.60 L260.00,194.60 L261.00,194.60 L262.00,194.60 L263.00,194.60 L264.00,194.60 L265.00,194.60 L266.00,194.60 L267.00,194.60 L268.00,194.60 L269.00,194.60 L270.00,194.60 L271.00,194.60 L272.00,194.60 L273.00,194.60 L274.00,194.60 L275.00,194.60 L276.00,194.60 L277.00,194.60 L278.00,194.60 L279.00,194.60 L280.00,194.60 L281.00,194.60 L282.00,194.60 L283.00,194.60 L284.00,194.60 L285.00,194.60 L286.00,194.60 L287.00,194.60 L288.00,194.60 L289.00,194.60 L290.00,194.60 L291.00,194.60 L292.00,194.60 L293.00,194.60 L294.00,194.60 L295.00,194.60 L296.00,194.60 L297.00,194.60 L298.00,194.60 L299.00,194.60 L300.00,194.60 L301.00,194.60 L302.00,194.60 L303.00,194.60 L304.00,194.60 L305.00,194.60 L306.00,194.60 L306.30,194.60" fill="none" stroke="#111" stroke-width="1.05" stroke-linejoin="round"/>
<path d="M40.00,244.40 L41.00,244.40 L42.00,244.40 L43.00,244.40 L44.00,244.40 L45.00,244.40 L46.00,244.40 L47.00,244.40 L48.00,244.39 L49.00,244.38 L50.00,244.37 L51.00,244.37 L52.00,244.36 L53.00,244.35 L54.00,244.34 L55.00,244.33 L56.00,244.32 L57.00,244.31 L58.00,244.30 L59.00,244.29 L60.00,244.28 L61.00,244.26 L62.00,244.24 L63.00,244.21 L64.00,244.18 L65.00,244.15 L66.00,244.11 L67.00,244.07 L68.00,244.02 L69.00,243.97 L70.00,243.85 L71.00,243.68 L72.00,243.48 L73.00,243.24 L74.00,243.00 L75.00,242.74 L76.00,242.46 L77.00,242.16 L78.00,241.82 L79.00,241.46 L80.00,241.06 L81.00,240.63 L82.00,240.18 L83.00,239.69 L84.00,239.17 L85.00,238.60 L86.00,238.00 L87.00,237.39 L88.00,236.76 L89.00,236.12 L90.00,235.47 L91.00,234.79 L92.00,234.09 L93.00,233.38 L94.00,232.68 L95.00,232.00 L96.00,231.37 L97.00,230.78 L98.00,230.23 L99.00,229.70 L100.00,229.20 L101.00,228.75 L102.00,228.34 L103.00,227.97 L104.00,227.64 L105.00,227.39 L106.00,227.21 L107.00,227.12 L108.00,227.10 L109.00,227.15 L110.00,227.28 L111.00,227.49 L112.00,227.80 L113.00,228.19 L114.00,228.62 L115.00,229.07 L116.00,229.48 L117.00,229.84 L118.00,230.18 L119.00,230.51 L120.00,230.83 L121.00,231.13 L122.00,231.40 L123.00,231.65 L124.00,231.89 L125.00,232.11 L126.00,232.31 L127.00,232.50 L128.00,232.67 L129.00,232.82 L130.00,232.97 L131.00,233.11 L132.00,233.25 L133.00,233.38 L134.00,233.50 L135.00,233.62 L136.00,233.74 L137.00,233.85 L138.00,233.94 L139.00,234.02 L140.00,234.08 L141.00,234.11 L142.00,234.11 L143.00,234.10 L144.00,234.08 L145.00,234.04 L146.00,234.00 L147.00,233.95 L148.00,233.90 L149.00,233.85 L150.00,233.80 L151.00,233.74 L152.00,233.67 L153.00,233.59 L154.00,233.51 L155.00,233.42 L156.00,233.34 L157.00,233.27 L158.00,233.21 L159.00,233.18 L160.00,233.23 L161.00,233.39 L162.00,233.70 L163.00,234.11 L164.00,234.53 L165.00,234.96 L166.00,235.39 L167.00,235.80 L168.00,236.20 L169.00,236.60 L170.00,237.00 L171.00,237.40 L172.00,237.84 L173.00,238.33 L174.00,238.83 L175.00,239.33 L176.00,239.80 L177.00,240.22 L178.00,240.59 L179.00,240.89 L180.00,241.12 L181.00,241.26 L182.00,241.30 L183.00,241.26 L184.00,241.17 L185.00,241.02 L186.00,240.83 L187.00,240.60 L188.00,240.35 L189.00,240.08 L190.00,239.81 L191.00,239.55 L192.00,239.29 L193.00,239.05 L194.00,238.82 L195.00,238.59 L196.00,238.38 L197.00,238.18 L198.00,238.00 L199.00,237.85 L200.00,237.72 L201.00,237.62 L202.00,237.54 L203.00,237.46 L204.00,237.39 L205.00,237.32 L206.00,237.26 L207.00,237.21 L208.00,237.17 L209.00,237.15 L210.00,237.15 L211.00,237.16 L212.00,237.21 L213.00,237.28 L214.00,237.38 L215.00,237.48 L216.00,237.60 L217.00,237.71 L218.00,237.83 L219.00,237.97 L220.00,238.15 L221.00,238.41 L222.00,238.73 L223.00,239.06 L224.00,239.39 L225.00,239.73 L226.00,240.06 L227.00,240.40 L228.00,240.74 L229.00,241.08 L230.00,241.42 L231.00,241.76 L232.00,242.10 L233.00,242.42 L234.00,242.69 L235.00,242.91 L236.00,243.10 L237.00,243.26 L238.00,243.40 L239.00,243.52 L240.00,243.63 L241.00,243.73 L242.00,243.82 L243.00,243.89 L244.00,243.95 L245.00,244.00 L246.00,244.04 L247.00,244.08 L248.00,244.10 L249.00,244.11 L250.00,244.09 L251.00,244.05 L252.00,244.00 L253.00,243.92 L254.00,243.81 L255.00,243.67 L256.00,243.50 L257.00,243.31 L258.00,243.11 L259.00,242.87 L260.00,242.61 L261.00,242.31 L262.00,241.98 L263.00,241.65 L264.00,241.32 L265.00,241.00 L266.00,240.68 L267.00,240.37 L268.00,240.06 L269.00,239.75 L270.00,239.46 L271.00,239.22 L272.00,239.05 L273.00,238.95 L274.00,238.90 L275.00,238.92 L276.00,239.02 L277.00,239.20 L278.00,239.42 L279.00,239.65 L280.00,239.90 L281.00,240.16 L282.00,240.43 L283.00,240.70 L284.00,240.97 L285.00,241.24 L286.00,241.50 L287.00,241.76 L288.00,242.01 L289.00,242.25 L290.00,242.49 L291.00,242.71 L292.00,242.92 L293.00,243.10 L294.00,243.26 L295.00,243.39 L296.00,243.50 L297.00,243.61 L298.00,243.70 L299.00,243.79 L300.00,243.87 L301.00,243.95 L302.00,244.01 L303.00,244.07 L304.00,244.12 L305.00,244.16 L306.00,244.19 L306.30,244.20 L306.30,244.40 L40.00,244.40 Z" fill="rgb(217,52,52)" fill-opacity="0.22" stroke="none"/>
<path d="M54.20,244.40 L89.81,244.40 L89.81,237.40 L101.68,237.40 L101.68,229.00 L113.55,229.00 L113.55,236.30 L172.90,236.30 L172.90,244.40 L196.64,244.40 L196.64,236.30 L220.38,236.30 L220.38,244.40 L267.86,244.40 L267.86,236.30 L279.73,236.30 L279.73,244.40 L291.60,244.40 Z" fill="rgb(217,52,52)" fill-opacity="0.43" stroke="none"/>
<path d="M54.20,244.40 L89.81,244.40 L89.81,237.40 L101.68,237.40 L101.68,229.00 L113.55,229.00 L113.55,236.30 L172.90,236.30 L172.90,244.40 L196.64,244.40 L196.64,236.30 L220.38,236.30 L220.38,244.40 L267.86,244.40 L267.86,236.30 L279.73,236.30 L279.73,244.40 L291.60,244.40" fill="none" stroke="#000" stroke-opacity="0.8" stroke-width="1" stroke-linejoin="miter"/>
<path d="M40.00,244.40 L41.00,244.40 L42.00,244.40 L43.00,244.40 L44.00,244.40 L45.00,244.40 L46.00,244.40 L47.00,244.40 L48.00,244.39 L49.00,244.38 L50.00,244.37 L51.00,244.37 L52.00,244.36 L53.00,244.35 L54.00,244.34 L55.00,244.33 L56.00,244.32 L57.00,244.31 L58.00,244.30 L59.00,244.29 L60.00,244.28 L61.00,244.26 L62.00,244.24 L63.00,244.21 L64.00,244.18 L65.00,244.15 L66.00,244.11 L67.00,244.07 L68.00,244.02 L69.00,243.97 L70.00,243.85 L71.00,243.68 L72.00,243.48 L73.00,243.24 L74.00,243.00 L75.00,242.74 L76.00,242.46 L77.00,242.16 L78.00,241.82 L79.00,241.46 L80.00,241.06 L81.00,240.63 L82.00,240.18 L83.00,239.69 L84.00,239.17 L85.00,238.60 L86.00,238.00 L87.00,237.39 L88.00,236.76 L89.00,236.12 L90.00,235.47 L91.00,234.79 L92.00,234.09 L93.00,233.38 L94.00,232.68 L95.00,232.00 L96.00,231.37 L97.00,230.78 L98.00,230.23 L99.00,229.70 L100.00,229.20 L101.00,228.75 L102.00,228.34 L103.00,227.97 L104.00,227.64 L105.00,227.39 L106.00,227.21 L107.00,227.12 L108.00,227.10 L109.00,227.15 L110.00,227.28 L111.00,227.49 L112.00,227.80 L113.00,228.19 L114.00,228.62 L115.00,229.07 L116.00,229.48 L117.00,229.84 L118.00,230.18 L119.00,230.51 L120.00,230.83 L121.00,231.13 L122.00,231.40 L123.00,231.65 L124.00,231.89 L125.00,232.11 L126.00,232.31 L127.00,232.50 L128.00,232.67 L129.00,232.82 L130.00,232.97 L131.00,233.11 L132.00,233.25 L133.00,233.38 L134.00,233.50 L135.00,233.62 L136.00,233.74 L137.00,233.85 L138.00,233.94 L139.00,234.02 L140.00,234.08 L141.00,234.11 L142.00,234.11 L143.00,234.10 L144.00,234.08 L145.00,234.04 L146.00,234.00 L147.00,233.95 L148.00,233.90 L149.00,233.85 L150.00,233.80 L151.00,233.74 L152.00,233.67 L153.00,233.59 L154.00,233.51 L155.00,233.42 L156.00,233.34 L157.00,233.27 L158.00,233.21 L159.00,233.18 L160.00,233.23 L161.00,233.39 L162.00,233.70 L163.00,234.11 L164.00,234.53 L165.00,234.96 L166.00,235.39 L167.00,235.80 L168.00,236.20 L169.00,236.60 L170.00,237.00 L171.00,237.40 L172.00,237.84 L173.00,238.33 L174.00,238.83 L175.00,239.33 L176.00,239.80 L177.00,240.22 L178.00,240.59 L179.00,240.89 L180.00,241.12 L181.00,241.26 L182.00,241.30 L183.00,241.26 L184.00,241.17 L185.00,241.02 L186.00,240.83 L187.00,240.60 L188.00,240.35 L189.00,240.08 L190.00,239.81 L191.00,239.55 L192.00,239.29 L193.00,239.05 L194.00,238.82 L195.00,238.59 L196.00,238.38 L197.00,238.18 L198.00,238.00 L199.00,237.85 L200.00,237.72 L201.00,237.62 L202.00,237.54 L203.00,237.46 L204.00,237.39 L205.00,237.32 L206.00,237.26 L207.00,237.21 L208.00,237.17 L209.00,237.15 L210.00,237.15 L211.00,237.16 L212.00,237.21 L213.00,237.28 L214.00,237.38 L215.00,237.48 L216.00,237.60 L217.00,237.71 L218.00,237.83 L219.00,237.97 L220.00,238.15 L221.00,238.41 L222.00,238.73 L223.00,239.06 L224.00,239.39 L225.00,239.73 L226.00,240.06 L227.00,240.40 L228.00,240.74 L229.00,241.08 L230.00,241.42 L231.00,241.76 L232.00,242.10 L233.00,242.42 L234.00,242.69 L235.00,242.91 L236.00,243.10 L237.00,243.26 L238.00,243.40 L239.00,243.52 L240.00,243.63 L241.00,243.73 L242.00,243.82 L243.00,243.89 L244.00,243.95 L245.00,244.00 L246.00,244.04 L247.00,244.08 L248.00,244.10 L249.00,244.11 L250.00,244.09 L251.00,244.05 L252.00,244.00 L253.00,243.92 L254.00,243.81 L255.00,243.67 L256.00,243.50 L257.00,243.31 L258.00,243.11 L259.00,242.87 L260.00,242.61 L261.00,242.31 L262.00,241.98 L263.00,241.65 L264.00,241.32 L265.00,241.00 L266.00,240.68 L267.00,240.37 L268.00,240.06 L269.00,239.75 L270.00,239.46 L271.00,239.22 L272.00,239.05 L273.00,238.95 L274.00,238.90 L275.00,238.92 L276.00,239.02 L277.00,239.20 L278.00,239.42 L279.00,239.65 L280.00,239.90 L281.00,240.16 L282.00,240.43 L283.00,240.70 L284.00,240.97 L285.00,241.24 L286.00,241.50 L287.00,241.76 L288.00,242.01 L289.00,242.25 L290.00,242.49 L291.00,242.71 L292.00,242.92 L293.00,243.10 L294.00,243.26 L295.00,243.39 L296.00,243.50 L297.00,243.61 L298.00,243.70 L299.00,243.79 L300.00,243.87 L301.00,243.95 L302.00,244.01 L303.00,244.07 L304.00,244.12 L305.00,244.16 L306.00,244.19 L306.30,244.20" fill="none" stroke="#111" stroke-width="1.05" stroke-linejoin="round"/>
<path d="M372.60,43.00 L373.60,42.94 L374.60,42.85 L375.60,42.73 L376.60,42.60 L377.60,42.46 L378.60,42.31 L379.60,42.14 L380.60,41.95 L381.60,41.73 L382.60,41.47 L383.60,41.18 L384.60,40.84 L385.60,40.42 L386.60,39.93 L387.60,39.36 L388.60,38.75 L389.60,38.11 L390.60,37.41 L391.60,36.70 L392.60,36.00 L393.60,35.34 L394.60,34.72 L395.60,34.16 L396.60,33.64 L397.60,33.17 L398.60,32.77 L399.60,32.47 L400.60,32.26 L401.60,32.14 L402.60,32.08 L403.60,32.09 L404.60,32.16 L405.60,32.32 L406.60,32.53 L407.60,32.78 L408.60,33.12 L409.60,33.54 L410.60,33.97 L411.60,34.40 L412.60,34.83 L413.60,35.26 L414.60,35.68 L415.60,36.11 L416.60,36.53 L417.60,36.94 L418.60,37.25 L419.60,37.43 L420.60,37.56 L421.60,37.67 L422.60,37.77 L423.60,37.81 L424.60,37.77 L425.60,37.71 L426.60,37.65 L427.60,37.59 L428.60,37.53 L429.60,37.46 L430.60,37.39 L431.60,37.33 L432.60,37.26 L433.60,37.19 L434.60,37.13 L435.60,37.08 L436.60,37.06 L437.60,37.07 L438.60,37.09 L439.60,37.10 L440.60,37.09 L441.60,37.06 L442.60,37.01 L443.60,36.92 L444.60,36.75 L445.60,36.40 L446.60,35.92 L447.60,35.36 L448.60,34.77 L449.60,34.14 L450.60,33.46 L451.60,32.75 L452.60,32.03 L453.60,31.30 L454.60,30.54 L455.60,29.72 L456.60,28.91 L457.60,28.18 L458.60,27.61 L459.60,27.14 L460.60,26.75 L461.60,26.39 L462.60,26.12 L463.60,25.98 L464.60,26.00 L465.60,26.17 L466.60,26.45 L467.60,26.82 L468.60,27.28 L469.60,27.76 L470.60,28.26 L471.60,28.80 L472.60,29.38 L473.60,30.02 L474.60,30.70 L475.60,31.35 L476.60,31.95 L477.60,32.46 L478.60,32.89 L479.60,33.20 L480.60,33.32 L481.60,33.24 L482.60,33.10 L483.60,32.92 L484.60,32.72 L485.60,32.50 L486.60,32.29 L487.60,32.08 L488.60,31.89 L489.60,31.71 L490.60,31.57 L491.60,31.46 L492.60,31.41 L493.60,31.42 L494.60,31.55 L495.60,31.78 L496.60,32.09 L497.60,32.45 L498.60,32.84 L499.60,33.26 L500.60,33.71 L501.60,34.14 L502.60,34.55 L503.60,34.92 L504.60,35.26 L505.60,35.58 L506.60,35.88 L507.60,36.17 L508.60,36.46 L509.60,36.69 L510.60,36.85 L511.60,36.90 L512.60,36.86 L513.60,36.80 L514.60,36.72 L515.60,36.63 L516.60,36.55 L517.60,36.45 L518.60,36.36 L519.60,36.27 L520.60,36.19 L521.60,36.15 L522.60,36.15 L523.60,36.18 L524.60,36.23 L525.60,36.31 L526.60,36.45 L527.60,36.64 L528.60,36.83 L529.60,37.03 L530.60,37.22 L531.60,37.42 L532.60,37.61 L533.60,37.80 L534.60,37.99 L535.60,38.18 L536.60,38.36 L537.60,38.51 L538.60,38.65 L539.60,38.77 L540.60,38.87 L541.60,38.92 L542.60,38.88 L543.60,38.82 L544.60,38.75 L545.60,38.67 L546.60,38.60 L547.60,38.53 L548.60,38.46 L549.60,38.40 L550.60,38.34 L551.60,38.29 L552.60,38.23 L553.60,38.18 L554.60,38.16 L555.60,38.18 L556.60,38.26 L557.60,38.40 L558.60,38.60 L559.60,38.84 L560.60,39.11 L561.60,39.39 L562.60,39.68 L563.60,39.99 L564.60,40.31 L565.60,40.61 L566.60,40.87 L567.60,41.10 L568.60,41.30 L569.60,41.48 L570.60,41.64 L571.60,41.79 L572.60,41.93 L573.60,42.06 L574.60,42.16 L575.60,42.23 L576.60,42.29 L577.60,42.34 L578.60,42.39 L579.60,42.43 L580.60,42.46 L581.60,42.49 L582.60,42.51 L583.60,42.53 L584.60,42.54 L585.60,42.55 L586.60,42.56 L587.60,42.58 L588.60,42.61 L589.60,42.65 L590.60,42.70 L591.60,42.75 L592.60,42.80 L593.60,42.85 L594.60,42.89 L595.60,42.91 L596.60,42.94 L597.60,42.96 L598.60,42.97 L599.60,42.98 L600.60,42.99 L601.60,43.00 L602.60,43.00 L603.60,43.00 L604.60,43.00 L605.60,43.00 L606.60,43.00 L607.60,43.00 L608.60,43.00 L609.60,43.00 L610.60,43.00 L611.60,43.00 L612.60,43.00 L613.60,43.00 L614.60,43.00 L615.00,43.00 L615.00,43.00 L372.60,43.00 Z" fill="rgb(100,149,237)" fill-opacity="0.22" stroke="none"/>
<path d="M387.20,43.00 L397.80,43.00 L397.80,32.50 L408.40,32.50 L408.40,43.00 L429.60,43.00 L429.60,37.55 L440.20,37.55 L440.20,43.00 L461.40,43.00 L461.40,26.00 L472.00,26.00 L472.00,43.00 L482.60,43.00 L482.60,33.00 L493.20,33.00 L493.20,43.00 L514.40,43.00 L514.40,36.50 L525.00,36.50 L525.00,43.00 L546.20,43.00 L546.20,38.20 L556.80,38.20 L556.80,43.00 L578.00,43.00 L578.00,42.40 L588.60,42.40 L588.60,43.00 L599.60,43.00 Z" fill="rgb(100,149,237)" fill-opacity="0.43" stroke="none"/>
<path d="M387.20,43.00 L397.80,43.00 L397.80,32.50 L408.40,32.50 L408.40,43.00 L429.60,43.00 L429.60,37.55 L440.20,37.55 L440.20,43.00 L461.40,43.00 L461.40,26.00 L472.00,26.00 L472.00,43.00 L482.60,43.00 L482.60,33.00 L493.20,33.00 L493.20,43.00 L514.40,43.00 L514.40,36.50 L525.00,36.50 L525.00,43.00 L546.20,43.00 L546.20,38.20 L556.80,38.20 L556.80,43.00 L578.00,43.00 L578.00,42.40 L588.60,42.40 L588.60,43.00 L599.60,43.00" fill="none" stroke="#000" stroke-opacity="0.8" stroke-width="1" stroke-linejoin="miter"/>
<path d="M372.60,43.00 L373.60,42.94 L374.60,42.85 L375.60,42.73 L376.60,42.60 L377.60,42.46 L378.60,42.31 L379.60,42.14 L380.60,41.95 L381.60,41.73 L382.60,41.47 L383.60,41.18 L384.60,40.84 L385.60,40.42 L386.60,39.93 L387.60,39.36 L388.60,38.75 L389.60,38.11 L390.60,37.41 L391.60,36.70 L392.60,36.00 L393.60,35.34 L394.60,34.72 L395.60,34.16 L396.60,33.64 L397.60,33.17 L398.60,32.77 L399.60,32.47 L400.60,32.26 L401.60,32.14 L402.60,32.08 L403.60,32.09 L404.60,32.16 L405.60,32.32 L406.60,32.53 L407.60,32.78 L408.60,33.12 L409.60,33.54 L410.60,33.97 L411.60,34.40 L412.60,34.83 L413.60,35.26 L414.60,35.68 L415.60,36.11 L416.60,36.53 L417.60,36.94 L418.60,37.25 L419.60,37.43 L420.60,37.56 L421.60,37.67 L422.60,37.77 L423.60,37.81 L424.60,37.77 L425.60,37.71 L426.60,37.65 L427.60,37.59 L428.60,37.53 L429.60,37.46 L430.60,37.39 L431.60,37.33 L432.60,37.26 L433.60,37.19 L434.60,37.13 L435.60,37.08 L436.60,37.06 L437.60,37.07 L438.60,37.09 L439.60,37.10 L440.60,37.09 L441.60,37.06 L442.60,37.01 L443.60,36.92 L444.60,36.75 L445.60,36.40 L446.60,35.92 L447.60,35.36 L448.60,34.77 L449.60,34.14 L450.60,33.46 L451.60,32.75 L452.60,32.03 L453.60,31.30 L454.60,30.54 L455.60,29.72 L456.60,28.91 L457.60,28.18 L458.60,27.61 L459.60,27.14 L460.60,26.75 L461.60,26.39 L462.60,26.12 L463.60,25.98 L464.60,26.00 L465.60,26.17 L466.60,26.45 L467.60,26.82 L468.60,27.28 L469.60,27.76 L470.60,28.26 L471.60,28.80 L472.60,29.38 L473.60,30.02 L474.60,30.70 L475.60,31.35 L476.60,31.95 L477.60,32.46 L478.60,32.89 L479.60,33.20 L480.60,33.32 L481.60,33.24 L482.60,33.10 L483.60,32.92 L484.60,32.72 L485.60,32.50 L486.60,32.29 L487.60,32.08 L488.60,31.89 L489.60,31.71 L490.60,31.57 L491.60,31.46 L492.60,31.41 L493.60,31.42 L494.60,31.55 L495.60,31.78 L496.60,32.09 L497.60,32.45 L498.60,32.84 L499.60,33.26 L500.60,33.71 L501.60,34.14 L502.60,34.55 L503.60,34.92 L504.60,35.26 L505.60,35.58 L506.60,35.88 L507.60,36.17 L508.60,36.46 L509.60,36.69 L510.60,36.85 L511.60,36.90 L512.60,36.86 L513.60,36.80 L514.60,36.72 L515.60,36.63 L516.60,36.55 L517.60,36.45 L518.60,36.36 L519.60,36.27 L520.60,36.19 L521.60,36.15 L522.60,36.15 L523.60,36.18 L524.60,36.23 L525.60,36.31 L526.60,36.45 L527.60,36.64 L528.60,36.83 L529.60,37.03 L530.60,37.22 L531.60,37.42 L532.60,37.61 L533.60,37.80 L534.60,37.99 L535.60,38.18 L536.60,38.36 L537.60,38.51 L538.60,38.65 L539.60,38.77 L540.60,38.87 L541.60,38.92 L542.60,38.88 L543.60,38.82 L544.60,38.75 L545.60,38.67 L546.60,38.60 L547.60,38.53 L548.60,38.46 L549.60,38.40 L550.60,38.34 L551.60,38.29 L552.60,38.23 L553.60,38.18 L554.60,38.16 L555.60,38.18 L556.60,38.26 L557.60,38.40 L558.60,38.60 L559.60,38.84 L560.60,39.11 L561.60,39.39 L562.60,39.68 L563.60,39.99 L564.60,40.31 L565.60,40.61 L566.60,40.87 L567.60,41.10 L568.60,41.30 L569.60,41.48 L570.60,41.64 L571.60,41.79 L572.60,41.93 L573.60,42.06 L574.60,42.16 L575.60,42.23 L576.60,42.29 L577.60,42.34 L578.60,42.39 L579.60,42.43 L580.60,42.46 L581.60,42.49 L582.60,42.51 L583.60,42.53 L584.60,42.54 L585.60,42.55 L586.60,42.56 L587.60,42.58 L588.60,42.61 L589.60,42.65 L590.60,42.70 L591.60,42.75 L592.60,42.80 L593.60,42.85 L594.60,42.89 L595.60,42.91 L596.60,42.94 L597.60,42.96 L598.60,42.97 L599.60,42.98 L600.60,42.99 L601.60,43.00 L602.60,43.00 L603.60,43.00 L604.60,43.00 L605.60,43.00 L606.60,43.00 L607.60,43.00 L608.60,43.00 L609.60,43.00 L610.60,43.00 L611.60,43.00 L612.60,43.00 L613.60,43.00 L614.60,43.00 L615.00,43.00" fill="none" stroke="#111" stroke-width="1.05" stroke-linejoin="round"/>
<path d="M372.60,94.40 L373.60,94.40 L374.60,94.40 L375.60,94.40 L376.60,94.40 L377.60,94.40 L378.60,94.40 L379.60,94.40 L380.60,94.40 L381.60,94.40 L382.60,94.40 L383.60,94.40 L384.60,94.40 L385.60,94.40 L386.60,94.40 L387.60,94.40 L388.60,94.40 L389.60,94.40 L390.60,94.40 L391.60,94.40 L392.60,94.40 L393.60,94.40 L394.60,94.39 L395.60,94.39 L396.60,94.39 L397.60,94.39 L398.60,94.38 L399.60,94.38 L400.60,94.38 L401.60,94.37 L402.60,94.37 L403.60,94.37 L404.60,94.36 L405.60,94.36 L406.60,94.36 L407.60,94.35 L408.60,94.35 L409.60,94.35 L410.60,94.34 L411.60,94.34 L412.60,94.33 L413.60,94.33 L414.60,94.33 L415.60,94.32 L416.60,94.32 L417.60,94.31 L418.60,94.31 L419.60,94.30 L420.60,94.30 L421.60,94.29 L422.60,94.29 L423.60,94.28 L424.60,94.27 L425.60,94.27 L426.60,94.26 L427.60,94.25 L428.60,94.24 L429.60,94.24 L430.60,94.23 L431.60,94.22 L432.60,94.21 L433.60,94.19 L434.60,94.18 L435.60,94.17 L436.60,94.15 L437.60,94.14 L438.60,94.12 L439.60,94.11 L440.60,94.09 L441.60,94.07 L442.60,94.05 L443.60,94.02 L444.60,94.00 L445.60,93.97 L446.60,93.95 L447.60,93.92 L448.60,93.89 L449.60,93.87 L450.60,93.84 L451.60,93.81 L452.60,93.78 L453.60,93.75 L454.60,93.73 L455.60,93.69 L456.60,93.66 L457.60,93.63 L458.60,93.60 L459.60,93.56 L460.60,93.53 L461.60,93.49 L462.60,93.44 L463.60,93.37 L464.60,93.29 L465.60,93.21 L466.60,93.13 L467.60,93.05 L468.60,92.95 L469.60,92.84 L470.60,92.70 L471.60,92.53 L472.60,92.33 L473.60,92.04 L474.60,91.63 L475.60,91.15 L476.60,90.60 L477.60,90.02 L478.60,89.40 L479.60,88.76 L480.60,88.09 L481.60,87.36 L482.60,86.64 L483.60,85.99 L484.60,85.44 L485.60,84.96 L486.60,84.55 L487.60,84.19 L488.60,83.90 L489.60,83.67 L490.60,83.50 L491.60,83.40 L492.60,83.38 L493.60,83.46 L494.60,83.60 L495.60,83.81 L496.60,84.07 L497.60,84.40 L498.60,84.76 L499.60,85.14 L500.60,85.52 L501.60,85.89 L502.60,86.23 L503.60,86.55 L504.60,86.85 L505.60,87.13 L506.60,87.40 L507.60,87.65 L508.60,87.85 L509.60,87.97 L510.60,88.00 L511.60,87.94 L512.60,87.84 L513.60,87.71 L514.60,87.56 L515.60,87.40 L516.60,87.19 L517.60,86.97 L518.60,86.76 L519.60,86.59 L520.60,86.48 L521.60,86.43 L522.60,86.41 L523.60,86.41 L524.60,86.41 L525.60,86.42 L526.60,86.41 L527.60,86.38 L528.60,86.34 L529.60,86.29 L530.60,86.23 L531.60,86.16 L532.60,86.08 L533.60,85.99 L534.60,85.79 L535.60,85.41 L536.60,84.81 L537.60,83.99 L538.60,83.11 L539.60,82.24 L540.60,81.40 L541.60,80.57 L542.60,79.75 L543.60,78.92 L544.60,78.08 L545.60,77.23 L546.60,76.40 L547.60,75.73 L548.60,75.28 L549.60,74.94 L550.60,74.60 L551.60,74.33 L552.60,74.19 L553.60,74.24 L554.60,74.44 L555.60,74.78 L556.60,75.25 L557.60,75.78 L558.60,76.33 L559.60,76.89 L560.60,77.46 L561.60,78.06 L562.60,78.67 L563.60,79.27 L564.60,79.86 L565.60,80.38 L566.60,80.80 L567.60,81.13 L568.60,81.37 L569.60,81.50 L570.60,81.51 L571.60,81.38 L572.60,81.15 L573.60,80.84 L574.60,80.46 L575.60,79.99 L576.60,79.48 L577.60,78.97 L578.60,78.52 L579.60,78.17 L580.60,77.92 L581.60,77.74 L582.60,77.59 L583.60,77.49 L584.60,77.48 L585.60,77.57 L586.60,77.88 L587.60,78.47 L588.60,79.37 L589.60,80.41 L590.60,81.38 L591.60,82.28 L592.60,83.16 L593.60,84.04 L594.60,84.94 L595.60,85.88 L596.60,86.95 L597.60,88.05 L598.60,89.07 L599.60,89.91 L600.60,90.55 L601.60,91.05 L602.60,91.46 L603.60,91.84 L604.60,92.21 L605.60,92.57 L606.60,92.90 L607.60,93.20 L608.60,93.44 L609.60,93.66 L610.60,93.85 L611.60,94.01 L612.60,94.15 L613.60,94.27 L614.60,94.37 L615.00,94.40 L615.00,94.40 L372.60,94.40 Z" fill="rgb(163,163,163)" fill-opacity="0.22" stroke="none"/>
<path d="M387.20,94.40 L482.60,94.40 L482.60,83.40 L493.20,83.40 L493.20,94.40 L514.40,94.40 L514.40,86.70 L525.00,86.70 L525.00,94.40 L546.20,94.40 L546.20,74.20 L556.80,74.20 L556.80,94.40 L578.00,94.40 L578.00,77.50 L588.60,77.50 L588.60,94.40 L599.60,94.40 Z" fill="rgb(163,163,163)" fill-opacity="0.43" stroke="none"/>
<path d="M387.20,94.40 L482.60,94.40 L482.60,83.40 L493.20,83.40 L493.20,94.40 L514.40,94.40 L514.40,86.70 L525.00,86.70 L525.00,94.40 L546.20,94.40 L546.20,74.20 L556.80,74.20 L556.80,94.40 L578.00,94.40 L578.00,77.50 L588.60,77.50 L588.60,94.40 L599.60,94.40" fill="none" stroke="#000" stroke-opacity="0.8" stroke-width="1" stroke-linejoin="miter"/>
<path d="M372.60,94.40 L373.60,94.40 L374.60,94.40 L375.60,94.40 L376.60,94.40 L377.60,94.40 L378.60,94.40 L379.60,94.40 L380.60,94.40 L381.60,94.40 L382.60,94.40 L383.60,94.40 L384.60,94.40 L385.60,94.40 L386.60,94.40 L387.60,94.40 L388.60,94.40 L389.60,94.40 L390.60,94.40 L391.60,94.40 L392.60,94.40 L393.60,94.40 L394.60,94.39 L395.60,94.39 L396.60,94.39 L397.60,94.39 L398.60,94.38 L399.60,94.38 L400.60,94.38 L401.60,94.37 L402.60,94.37 L403.60,94.37 L404.60,94.36 L405.60,94.36 L406.60,94.36 L407.60,94.35 L408.60,94.35 L409.60,94.35 L410.60,94.34 L411.60,94.34 L412.60,94.33 L413.60,94.33 L414.60,94.33 L415.60,94.32 L416.60,94.32 L417.60,94.31 L418.60,94.31 L419.60,94.30 L420.60,94.30 L421.60,94.29 L422.60,94.29 L423.60,94.28 L424.60,94.27 L425.60,94.27 L426.60,94.26 L427.60,94.25 L428.60,94.24 L429.60,94.24 L430.60,94.23 L431.60,94.22 L432.60,94.21 L433.60,94.19 L434.60,94.18 L435.60,94.17 L436.60,94.15 L437.60,94.14 L438.60,94.12 L439.60,94.11 L440.60,94.09 L441.60,94.07 L442.60,94.05 L443.60,94.02 L444.60,94.00 L445.60,93.97 L446.60,93.95 L447.60,93.92 L448.60,93.89 L449.60,93.87 L450.60,93.84 L451.60,93.81 L452.60,93.78 L453.60,93.75 L454.60,93.73 L455.60,93.69 L456.60,93.66 L457.60,93.63 L458.60,93.60 L459.60,93.56 L460.60,93.53 L461.60,93.49 L462.60,93.44 L463.60,93.37 L464.60,93.29 L465.60,93.21 L466.60,93.13 L467.60,93.05 L468.60,92.95 L469.60,92.84 L470.60,92.70 L471.60,92.53 L472.60,92.33 L473.60,92.04 L474.60,91.63 L475.60,91.15 L476.60,90.60 L477.60,90.02 L478.60,89.40 L479.60,88.76 L480.60,88.09 L481.60,87.36 L482.60,86.64 L483.60,85.99 L484.60,85.44 L485.60,84.96 L486.60,84.55 L487.60,84.19 L488.60,83.90 L489.60,83.67 L490.60,83.50 L491.60,83.40 L492.60,83.38 L493.60,83.46 L494.60,83.60 L495.60,83.81 L496.60,84.07 L497.60,84.40 L498.60,84.76 L499.60,85.14 L500.60,85.52 L501.60,85.89 L502.60,86.23 L503.60,86.55 L504.60,86.85 L505.60,87.13 L506.60,87.40 L507.60,87.65 L508.60,87.85 L509.60,87.97 L510.60,88.00 L511.60,87.94 L512.60,87.84 L513.60,87.71 L514.60,87.56 L515.60,87.40 L516.60,87.19 L517.60,86.97 L518.60,86.76 L519.60,86.59 L520.60,86.48 L521.60,86.43 L522.60,86.41 L523.60,86.41 L524.60,86.41 L525.60,86.42 L526.60,86.41 L527.60,86.38 L528.60,86.34 L529.60,86.29 L530.60,86.23 L531.60,86.16 L532.60,86.08 L533.60,85.99 L534.60,85.79 L535.60,85.41 L536.60,84.81 L537.60,83.99 L538.60,83.11 L539.60,82.24 L540.60,81.40 L541.60,80.57 L542.60,79.75 L543.60,78.92 L544.60,78.08 L545.60,77.23 L546.60,76.40 L547.60,75.73 L548.60,75.28 L549.60,74.94 L550.60,74.60 L551.60,74.33 L552.60,74.19 L553.60,74.24 L554.60,74.44 L555.60,74.78 L556.60,75.25 L557.60,75.78 L558.60,76.33 L559.60,76.89 L560.60,77.46 L561.60,78.06 L562.60,78.67 L563.60,79.27 L564.60,79.86 L565.60,80.38 L566.60,80.80 L567.60,81.13 L568.60,81.37 L569.60,81.50 L570.60,81.51 L571.60,81.38 L572.60,81.15 L573.60,80.84 L574.60,80.46 L575.60,79.99 L576.60,79.48 L577.60,78.97 L578.60,78.52 L579.60,78.17 L580.60,77.92 L581.60,77.74 L582.60,77.59 L583.60,77.49 L584.60,77.48 L585.60,77.57 L586.60,77.88 L587.60,78.47 L588.60,79.37 L589.60,80.41 L590.60,81.38 L591.60,82.28 L592.60,83.16 L593.60,84.04 L594.60,84.94 L595.60,85.88 L596.60,86.95 L597.60,88.05 L598.60,89.07 L599.60,89.91 L600.60,90.55 L601.60,91.05 L602.60,91.46 L603.60,91.84 L604.60,92.21 L605.60,92.57 L606.60,92.90 L607.60,93.20 L608.60,93.44 L609.60,93.66 L610.60,93.85 L611.60,94.01 L612.60,94.15 L613.60,94.27 L614.60,94.37 L615.00,94.40" fill="none" stroke="#111" stroke-width="1.05" stroke-linejoin="round"/>
<path d="M372.60,145.70 L373.60,145.70 L374.60,145.70 L375.60,145.70 L376.60,145.70 L377.60,145.70 L378.60,145.70 L379.60,145.70 L380.60,145.70 L381.60,145.70 L382.60,145.70 L383.60,145.70 L384.60,145.70 L385.60,145.70 L386.60,145.70 L387.60,145.70 L388.60,145.70 L389.60,145.70 L390.60,145.70 L391.60,145.70 L392.60,145.70 L393.60,145.70 L394.60,145.70 L395.60,145.70 L396.60,145.70 L397.60,145.70 L398.60,145.70 L399.60,145.70 L400.60,145.70 L401.60,145.70 L402.60,145.70 L403.60,145.70 L404.60,145.70 L405.60,145.70 L406.60,145.70 L407.60,145.70 L408.60,145.70 L409.60,145.70 L410.60,145.70 L411.60,145.70 L412.60,145.70 L413.60,145.70 L414.60,145.70 L415.60,145.70 L416.60,145.70 L417.60,145.70 L418.60,145.70 L419.60,145.70 L420.60,145.70 L421.60,145.70 L422.60,145.70 L423.60,145.70 L424.60,145.70 L425.60,145.70 L426.60,145.70 L427.60,145.70 L428.60,145.70 L429.60,145.70 L430.60,145.70 L431.60,145.70 L432.60,145.70 L433.60,145.70 L434.60,145.70 L435.60,145.70 L436.60,145.70 L437.60,145.70 L438.60,145.70 L439.60,145.70 L440.60,145.70 L441.60,145.70 L442.60,145.69 L443.60,145.69 L444.60,145.68 L445.60,145.68 L446.60,145.67 L447.60,145.67 L448.60,145.66 L449.60,145.66 L450.60,145.65 L451.60,145.65 L452.60,145.64 L453.60,145.64 L454.60,145.63 L455.60,145.62 L456.60,145.62 L457.60,145.61 L458.60,145.61 L459.60,145.60 L460.60,145.60 L461.60,145.59 L462.60,145.59 L463.60,145.58 L464.60,145.57 L465.60,145.56 L466.60,145.55 L467.60,145.54 L468.60,145.52 L469.60,145.51 L470.60,145.48 L471.60,145.44 L472.60,145.38 L473.60,145.30 L474.60,145.22 L475.60,145.13 L476.60,145.04 L477.60,144.95 L478.60,144.85 L479.60,144.75 L480.60,144.65 L481.60,144.55 L482.60,144.44 L483.60,144.33 L484.60,144.20 L485.60,144.05 L486.60,143.91 L487.60,143.79 L488.60,143.68 L489.60,143.59 L490.60,143.53 L491.60,143.50 L492.60,143.50 L493.60,143.52 L494.60,143.54 L495.60,143.56 L496.60,143.59 L497.60,143.62 L498.60,143.65 L499.60,143.69 L500.60,143.73 L501.60,143.77 L502.60,143.80 L503.60,143.80 L504.60,143.74 L505.60,143.63 L506.60,143.48 L507.60,143.29 L508.60,143.06 L509.60,142.83 L510.60,142.58 L511.60,142.33 L512.60,142.08 L513.60,141.85 L514.60,141.62 L515.60,141.40 L516.60,141.18 L517.60,140.97 L518.60,140.77 L519.60,140.60 L520.60,140.45 L521.60,140.32 L522.60,140.21 L523.60,140.11 L524.60,140.01 L525.60,139.92 L526.60,139.86 L527.60,139.80 L528.60,139.73 L529.60,139.64 L530.60,139.50 L531.60,139.32 L532.60,139.11 L533.60,138.87 L534.60,138.55 L535.60,138.09 L536.60,137.48 L537.60,136.74 L538.60,135.92 L539.60,134.99 L540.60,133.99 L541.60,132.95 L542.60,131.91 L543.60,130.90 L544.60,129.94 L545.60,129.01 L546.60,128.20 L547.60,127.55 L548.60,127.01 L549.60,126.56 L550.60,126.20 L551.60,125.95 L552.60,125.82 L553.60,125.81 L554.60,125.87 L555.60,126.00 L556.60,126.23 L557.60,126.52 L558.60,126.85 L559.60,127.22 L560.60,127.66 L561.60,128.18 L562.60,128.64 L563.60,128.94 L564.60,129.08 L565.60,129.09 L566.60,128.89 L567.60,128.45 L568.60,127.77 L569.60,126.94 L570.60,125.91 L571.60,124.75 L572.60,123.57 L573.60,122.38 L574.60,121.16 L575.60,119.92 L576.60,118.75 L577.60,117.83 L578.60,117.11 L579.60,116.52 L580.60,116.00 L581.60,115.62 L582.60,115.38 L583.60,115.29 L584.60,115.39 L585.60,115.66 L586.60,116.04 L587.60,116.58 L588.60,117.37 L589.60,118.47 L590.60,119.96 L591.60,121.80 L592.60,123.93 L593.60,126.39 L594.60,128.70 L595.60,130.59 L596.60,132.32 L597.60,133.91 L598.60,135.36 L599.60,136.73 L600.60,137.99 L601.60,139.11 L602.60,140.13 L603.60,141.00 L604.60,141.65 L605.60,142.18 L606.60,142.67 L607.60,143.13 L608.60,143.56 L609.60,143.98 L610.60,144.37 L611.60,144.73 L612.60,145.03 L613.60,145.26 L614.60,145.44 L615.00,145.50 L615.00,145.70 L372.60,145.70 Z" fill="rgb(246,178,50)" fill-opacity="0.22" stroke="none"/>
<path d="M387.20,145.70 L482.60,145.70 L482.60,144.60 L493.20,144.60 L493.20,145.70 L514.40,145.70 L514.40,141.80 L525.00,141.80 L525.00,145.70 L546.20,145.70 L546.20,126.00 L556.80,126.00 L556.80,145.70 L578.00,145.70 L578.00,115.30 L588.60,115.30 L588.60,145.70 L599.60,145.70 Z" fill="rgb(246,178,50)" fill-opacity="0.43" stroke="none"/>
<path d="M387.20,145.70 L482.60,145.70 L482.60,144.60 L493.20,144.60 L493.20,145.70 L514.40,145.70 L514.40,141.80 L525.00,141.80 L525.00,145.70 L546.20,145.70 L546.20,126.00 L556.80,126.00 L556.80,145.70 L578.00,145.70 L578.00,115.30 L588.60,115.30 L588.60,145.70 L599.60,145.70" fill="none" stroke="#000" stroke-opacity="0.8" stroke-width="1" stroke-linejoin="miter"/>
<path d="M372.60,145.70 L373.60,145.70 L374.60,145.70 L375.60,145.70 L376.60,145.70 L377.60,145.70 L378.60,145.70 L379.60,145.70 L380.60,145.70 L381.60,145.70 L382.60,145.70 L383.60,145.70 L384.60,145.70 L385.60,145.70 L386.60,145.70 L387.60,145.70 L388.60,145.70 L389.60,145.70 L390.60,145.70 L391.60,145.70 L392.60,145.70 L393.60,145.70 L394.60,145.70 L395.60,145.70 L396.60,145.70 L397.60,145.70 L398.60,145.70 L399.60,145.70 L400.60,145.70 L401.60,145.70 L402.60,145.70 L403.60,145.70 L404.60,145.70 L405.60,145.70 L406.60,145.70 L407.60,145.70 L408.60,145.70 L409.60,145.70 L410.60,145.70 L411.60,145.70 L412.60,145.70 L413.60,145.70 L414.60,145.70 L415.60,145.70 L416.60,145.70 L417.60,145.70 L418.60,145.70 L419.60,145.70 L420.60,145.70 L421.60,145.70 L422.60,145.70 L423.60,145.70 L424.60,145.70 L425.60,145.70 L426.60,145.70 L427.60,145.70 L428.60,145.70 L429.60,145.70 L430.60,145.70 L431.60,145.70 L432.60,145.70 L433.60,145.70 L434.60,145.70 L435.60,145.70 L436.60,145.70 L437.60,145.70 L438.60,145.70 L439.60,145.70 L440.60,145.70 L441.60,145.70 L442.60,145.69 L443.60,145.69 L444.60,145.68 L445.60,145.68 L446.60,145.67 L447.60,145.67 L448.60,145.66 L449.60,145.66 L450.60,145.65 L451.60,145.65 L452.60,145.64 L453.60,145.64 L454.60,145.63 L455.60,145.62 L456.60,145.62 L457.60,145.61 L458.60,145.61 L459.60,145.60 L460.60,145.60 L461.60,145.59 L462.60,145.59 L463.60,145.58 L464.60,145.57 L465.60,145.56 L466.60,145.55 L467.60,145.54 L468.60,145.52 L469.60,145.51 L470.60,145.48 L471.60,145.44 L472.60,145.38 L473.60,145.30 L474.60,145.22 L475.60,145.13 L476.60,145.04 L477.60,144.95 L478.60,144.85 L479.60,144.75 L480.60,144.65 L481.60,144.55 L482.60,144.44 L483.60,144.33 L484.60,144.20 L485.60,144.05 L486.60,143.91 L487.60,143.79 L488.60,143.68 L489.60,143.59 L490.60,143.53 L491.60,143.50 L492.60,143.50 L493.60,143.52 L494.60,143.54 L495.60,143.56 L496.60,143.59 L497.60,143.62 L498.60,143.65 L499.60,143.69 L500.60,143.73 L501.60,143.77 L502.60,143.80 L503.60,143.80 L504.60,143.74 L505.60,143.63 L506.60,143.48 L507.60,143.29 L508.60,143.06 L509.60,142.83 L510.60,142.58 L511.60,142.33 L512.60,142.08 L513.60,141.85 L514.60,141.62 L515.60,141.40 L516.60,141.18 L517.60,140.97 L518.60,140.77 L519.60,140.60 L520.60,140.45 L521.60,140.32 L522.60,140.21 L523.60,140.11 L524.60,140.01 L525.60,139.92 L526.60,139.86 L527.60,139.80 L528.60,139.73 L529.60,139.64 L530.60,139.50 L531.60,139.32 L532.60,139.11 L533.60,138.87 L534.60,138.55 L535.60,138.09 L536.60,137.48 L537.60,136.74 L538.60,135.92 L539.60,134.99 L540.60,133.99 L541.60,132.95 L542.60,131.91 L543.60,130.90 L544.60,129.94 L545.60,129.01 L546.60,128.20 L547.60,127.55 L548.60,127.01 L549.60,126.56 L550.60,126.20 L551.60,125.95 L552.60,125.82 L553.60,125.81 L554.60,125.87 L555.60,126.00 L556.60,126.23 L557.60,126.52 L558.60,126.85 L559.60,127.22 L560.60,127.66 L561.60,128.18 L562.60,128.64 L563.60,128.94 L564.60,129.08 L565.60,129.09 L566.60,128.89 L567.60,128.45 L568.60,127.77 L569.60,126.94 L570.60,125.91 L571.60,124.75 L572.60,123.57 L573.60,122.38 L574.60,121.16 L575.60,119.92 L576.60,118.75 L577.60,117.83 L578.60,117.11 L579.60,116.52 L580.60,116.00 L581.60,115.62 L582.60,115.38 L583.60,115.29 L584.60,115.39 L585.60,115.66 L586.60,116.04 L587.60,116.58 L588.60,117.37 L589.60,118.47 L590.60,119.96 L591.60,121.80 L592.60,123.93 L593.60,126.39 L594.60,128.70 L595.60,130.59 L596.60,132.32 L597.60,133.91 L598.60,135.36 L599.60,136.73 L600.60,137.99 L601.60,139.11 L602.60,140.13 L603.60,141.00 L604.60,141.65 L605.60,142.18 L606.60,142.67 L607.60,143.13 L608.60,143.56 L609.60,143.98 L610.60,144.37 L611.60,144.73 L612.60,145.03 L613.60,145.26 L614.60,145.44 L615.00,145.50" fill="none" stroke="#111" stroke-width="1.05" stroke-linejoin="round"/>
<path d="M372.60,197.10 L373.60,197.10 L374.60,197.10 L375.60,197.10 L376.60,197.10 L377.60,197.10 L378.60,197.10 L379.60,197.10 L380.60,197.10 L381.60,197.10 L382.60,197.10 L383.60,197.10 L384.60,197.10 L385.60,197.10 L386.60,197.10 L387.60,197.10 L388.60,197.10 L389.60,197.10 L390.60,197.10 L391.60,197.10 L392.60,197.10 L393.60,197.10 L394.60,197.10 L395.60,197.10 L396.60,197.10 L397.60,197.10 L398.60,197.10 L399.60,197.10 L400.60,197.10 L401.60,197.10 L402.60,197.10 L403.60,197.10 L404.60,197.10 L405.60,197.10 L406.60,197.10 L407.60,197.10 L408.60,197.10 L409.60,197.10 L410.60,197.10 L411.60,197.10 L412.60,197.10 L413.60,197.10 L414.60,197.10 L415.60,197.10 L416.60,197.10 L417.60,197.10 L418.60,197.10 L419.60,197.10 L420.60,197.10 L421.60,197.10 L422.60,197.10 L423.60,197.10 L424.60,197.10 L425.60,197.10 L426.60,197.10 L427.60,197.10 L428.60,197.10 L429.60,197.10 L430.60,197.10 L431.60,197.10 L432.60,197.10 L433.60,197.10 L434.60,197.10 L435.60,197.10 L436.60,197.10 L437.60,197.10 L438.60,197.10 L439.60,197.10 L440.60,197.10 L441.60,197.10 L442.60,197.10 L443.60,197.10 L444.60,197.10 L445.60,197.10 L446.60,197.10 L447.60,197.10 L448.60,197.10 L449.60,197.10 L450.60,197.10 L451.60,197.10 L452.60,197.10 L453.60,197.10 L454.60,197.10 L455.60,197.10 L456.60,197.10 L457.60,197.10 L458.60,197.10 L459.60,197.10 L460.60,197.10 L461.60,197.10 L462.60,197.10 L463.60,197.10 L464.60,197.10 L465.60,197.10 L466.60,197.10 L467.60,197.10 L468.60,197.10 L469.60,197.10 L470.60,197.10 L471.60,197.10 L472.60,197.10 L473.60,197.10 L474.60,197.10 L475.60,197.10 L476.60,197.10 L477.60,197.10 L478.60,197.10 L479.60,197.10 L480.60,197.10 L481.60,197.10 L482.60,197.09 L483.60,197.09 L484.60,197.08 L485.60,197.08 L486.60,197.07 L487.60,197.06 L488.60,197.06 L489.60,197.05 L490.60,197.04 L491.60,197.03 L492.60,197.02 L493.60,197.01 L494.60,197.00 L495.60,196.99 L496.60,196.98 L497.60,196.95 L498.60,196.92 L499.60,196.89 L500.60,196.84 L501.60,196.78 L502.60,196.71 L503.60,196.63 L504.60,196.52 L505.60,196.38 L506.60,196.23 L507.60,196.07 L508.60,195.90 L509.60,195.71 L510.60,195.50 L511.60,195.30 L512.60,195.11 L513.60,194.93 L514.60,194.78 L515.60,194.65 L516.60,194.53 L517.60,194.42 L518.60,194.33 L519.60,194.26 L520.60,194.20 L521.60,194.16 L522.60,194.11 L523.60,194.06 L524.60,194.01 L525.60,193.94 L526.60,193.85 L527.60,193.76 L528.60,193.65 L529.60,193.51 L530.60,193.34 L531.60,193.13 L532.60,192.91 L533.60,192.68 L534.60,192.43 L535.60,192.16 L536.60,191.84 L537.60,191.47 L538.60,191.03 L539.60,190.52 L540.60,189.96 L541.60,189.39 L542.60,188.81 L543.60,188.24 L544.60,187.68 L545.60,187.12 L546.60,186.60 L547.60,186.20 L548.60,185.95 L549.60,185.80 L550.60,185.69 L551.60,185.58 L552.60,185.47 L553.60,185.37 L554.60,185.27 L555.60,185.19 L556.60,185.11 L557.60,185.03 L558.60,184.94 L559.60,184.81 L560.60,184.65 L561.60,184.47 L562.60,184.24 L563.60,183.77 L564.60,183.11 L565.60,182.27 L566.60,181.15 L567.60,179.68 L568.60,178.04 L569.60,176.31 L570.60,174.54 L571.60,172.77 L572.60,170.84 L573.60,168.65 L574.60,166.40 L575.60,164.15 L576.60,161.88 L577.60,159.66 L578.60,157.96 L579.60,156.73 L580.60,155.70 L581.60,154.88 L582.60,154.37 L583.60,154.19 L584.60,154.33 L585.60,154.79 L586.60,155.59 L587.60,156.66 L588.60,158.02 L589.60,159.76 L590.60,161.70 L591.60,163.80 L592.60,166.08 L593.60,168.42 L594.60,170.81 L595.60,173.31 L596.60,175.91 L597.60,178.50 L598.60,180.94 L599.60,183.18 L600.60,185.18 L601.60,186.93 L602.60,188.41 L603.60,189.65 L604.60,190.70 L605.60,191.65 L606.60,192.54 L607.60,193.32 L608.60,193.99 L609.60,194.61 L610.60,195.17 L611.60,195.64 L612.60,196.06 L613.60,196.42 L614.60,196.73 L615.00,196.80 L615.00,197.10 L372.60,197.10 Z" fill="rgb(45,150,45)" fill-opacity="0.22" stroke="none"/>
<path d="M387.20,197.10 L514.40,197.10 L514.40,194.90 L525.00,194.90 L525.00,197.10 L546.20,197.10 L546.20,186.20 L556.80,186.20 L556.80,197.10 L578.00,197.10 L578.00,154.40 L588.60,154.40 L588.60,197.10 L599.60,197.10 Z" fill="rgb(45,150,45)" fill-opacity="0.43" stroke="none"/>
<path d="M387.20,197.10 L514.40,197.10 L514.40,194.90 L525.00,194.90 L525.00,197.10 L546.20,197.10 L546.20,186.20 L556.80,186.20 L556.80,197.10 L578.00,197.10 L578.00,154.40 L588.60,154.40 L588.60,197.10 L599.60,197.10" fill="none" stroke="#000" stroke-opacity="0.8" stroke-width="1" stroke-linejoin="miter"/>
<path d="M372.60,197.10 L373.60,197.10 L374.60,197.10 L375.60,197.10 L376.60,197.10 L377.60,197.10 L378.60,197.10 L379.60,197.10 L380.60,197.10 L381.60,197.10 L382.60,197.10 L383.60,197.10 L384.60,197.10 L385.60,197.10 L386.60,197.10 L387.60,197.10 L388.60,197.10 L389.60,197.10 L390.60,197.10 L391.60,197.10 L392.60,197.10 L393.60,197.10 L394.60,197.10 L395.60,197.10 L396.60,197.10 L397.60,197.10 L398.60,197.10 L399.60,197.10 L400.60,197.10 L401.60,197.10 L402.60,197.10 L403.60,197.10 L404.60,197.10 L405.60,197.10 L406.60,197.10 L407.60,197.10 L408.60,197.10 L409.60,197.10 L410.60,197.10 L411.60,197.10 L412.60,197.10 L413.60,197.10 L414.60,197.10 L415.60,197.10 L416.60,197.10 L417.60,197.10 L418.60,197.10 L419.60,197.10 L420.60,197.10 L421.60,197.10 L422.60,197.10 L423.60,197.10 L424.60,197.10 L425.60,197.10 L426.60,197.10 L427.60,197.10 L428.60,197.10 L429.60,197.10 L430.60,197.10 L431.60,197.10 L432.60,197.10 L433.60,197.10 L434.60,197.10 L435.60,197.10 L436.60,197.10 L437.60,197.10 L438.60,197.10 L439.60,197.10 L440.60,197.10 L441.60,197.10 L442.60,197.10 L443.60,197.10 L444.60,197.10 L445.60,197.10 L446.60,197.10 L447.60,197.10 L448.60,197.10 L449.60,197.10 L450.60,197.10 L451.60,197.10 L452.60,197.10 L453.60,197.10 L454.60,197.10 L455.60,197.10 L456.60,197.10 L457.60,197.10 L458.60,197.10 L459.60,197.10 L460.60,197.10 L461.60,197.10 L462.60,197.10 L463.60,197.10 L464.60,197.10 L465.60,197.10 L466.60,197.10 L467.60,197.10 L468.60,197.10 L469.60,197.10 L470.60,197.10 L471.60,197.10 L472.60,197.10 L473.60,197.10 L474.60,197.10 L475.60,197.10 L476.60,197.10 L477.60,197.10 L478.60,197.10 L479.60,197.10 L480.60,197.10 L481.60,197.10 L482.60,197.09 L483.60,197.09 L484.60,197.08 L485.60,197.08 L486.60,197.07 L487.60,197.06 L488.60,197.06 L489.60,197.05 L490.60,197.04 L491.60,197.03 L492.60,197.02 L493.60,197.01 L494.60,197.00 L495.60,196.99 L496.60,196.98 L497.60,196.95 L498.60,196.92 L499.60,196.89 L500.60,196.84 L501.60,196.78 L502.60,196.71 L503.60,196.63 L504.60,196.52 L505.60,196.38 L506.60,196.23 L507.60,196.07 L508.60,195.90 L509.60,195.71 L510.60,195.50 L511.60,195.30 L512.60,195.11 L513.60,194.93 L514.60,194.78 L515.60,194.65 L516.60,194.53 L517.60,194.42 L518.60,194.33 L519.60,194.26 L520.60,194.20 L521.60,194.16 L522.60,194.11 L523.60,194.06 L524.60,194.01 L525.60,193.94 L526.60,193.85 L527.60,193.76 L528.60,193.65 L529.60,193.51 L530.60,193.34 L531.60,193.13 L532.60,192.91 L533.60,192.68 L534.60,192.43 L535.60,192.16 L536.60,191.84 L537.60,191.47 L538.60,191.03 L539.60,190.52 L540.60,189.96 L541.60,189.39 L542.60,188.81 L543.60,188.24 L544.60,187.68 L545.60,187.12 L546.60,186.60 L547.60,186.20 L548.60,185.95 L549.60,185.80 L550.60,185.69 L551.60,185.58 L552.60,185.47 L553.60,185.37 L554.60,185.27 L555.60,185.19 L556.60,185.11 L557.60,185.03 L558.60,184.94 L559.60,184.81 L560.60,184.65 L561.60,184.47 L562.60,184.24 L563.60,183.77 L564.60,183.11 L565.60,182.27 L566.60,181.15 L567.60,179.68 L568.60,178.04 L569.60,176.31 L570.60,174.54 L571.60,172.77 L572.60,170.84 L573.60,168.65 L574.60,166.40 L575.60,164.15 L576.60,161.88 L577.60,159.66 L578.60,157.96 L579.60,156.73 L580.60,155.70 L581.60,154.88 L582.60,154.37 L583.60,154.19 L584.60,154.33 L585.60,154.79 L586.60,155.59 L587.60,156.66 L588.60,158.02 L589.60,159.76 L590.60,161.70 L591.60,163.80 L592.60,166.08 L593.60,168.42 L594.60,170.81 L595.60,173.31 L596.60,175.91 L597.60,178.50 L598.60,180.94 L599.60,183.18 L600.60,185.18 L601.60,186.93 L602.60,188.41 L603.60,189.65 L604.60,190.70 L605.60,191.65 L606.60,192.54 L607.60,193.32 L608.60,193.99 L609.60,194.61 L610.60,195.17 L611.60,195.64 L612.60,196.06 L613.60,196.42 L614.60,196.73 L615.00,196.80" fill="none" stroke="#111" stroke-width="1.05" stroke-linejoin="round"/>
<path d="M372.60,248.40 L373.60,248.40 L374.60,248.40 L375.60,248.40 L376.60,248.40 L377.60,248.40 L378.60,248.40 L379.60,248.40 L380.60,248.40 L381.60,248.40 L382.60,248.40 L383.60,248.40 L384.60,248.40 L385.60,248.40 L386.60,248.40 L387.60,248.40 L388.60,248.40 L389.60,248.40 L390.60,248.40 L391.60,248.40 L392.60,248.40 L393.60,248.40 L394.60,248.40 L395.60,248.40 L396.60,248.40 L397.60,248.40 L398.60,248.40 L399.60,248.40 L400.60,248.40 L401.60,248.40 L402.60,248.40 L403.60,248.40 L404.60,248.40 L405.60,248.40 L406.60,248.40 L407.60,248.40 L408.60,248.40 L409.60,248.40 L410.60,248.40 L411.60,248.40 L412.60,248.40 L413.60,248.40 L414.60,248.40 L415.60,248.40 L416.60,248.40 L417.60,248.40 L418.60,248.40 L419.60,248.40 L420.60,248.40 L421.60,248.40 L422.60,248.40 L423.60,248.40 L424.60,248.40 L425.60,248.40 L426.60,248.40 L427.60,248.40 L428.60,248.40 L429.60,248.40 L430.60,248.40 L431.60,248.40 L432.60,248.40 L433.60,248.40 L434.60,248.40 L435.60,248.40 L436.60,248.40 L437.60,248.40 L438.60,248.40 L439.60,248.40 L440.60,248.40 L441.60,248.40 L442.60,248.40 L443.60,248.40 L444.60,248.40 L445.60,248.40 L446.60,248.40 L447.60,248.40 L448.60,248.40 L449.60,248.40 L450.60,248.40 L451.60,248.40 L452.60,248.40 L453.60,248.40 L454.60,248.40 L455.60,248.40 L456.60,248.40 L457.60,248.40 L458.60,248.40 L459.60,248.40 L460.60,248.40 L461.60,248.40 L462.60,248.40 L463.60,248.40 L464.60,248.40 L465.60,248.40 L466.60,248.40 L467.60,248.40 L468.60,248.40 L469.60,248.40 L470.60,248.40 L471.60,248.40 L472.60,248.40 L473.60,248.40 L474.60,248.40 L475.60,248.40 L476.60,248.40 L477.60,248.40 L478.60,248.40 L479.60,248.40 L480.60,248.40 L481.60,248.40 L482.60,248.40 L483.60,248.40 L484.60,248.40 L485.60,248.40 L486.60,248.40 L487.60,248.40 L488.60,248.40 L489.60,248.40 L490.60,248.40 L491.60,248.40 L492.60,248.40 L493.60,248.40 L494.60,248.40 L495.60,248.40 L496.60,248.40 L497.60,248.40 L498.60,248.40 L499.60,248.40 L500.60,248.40 L501.60,248.40 L502.60,248.40 L503.60,248.39 L504.60,248.39 L505.60,248.39 L506.60,248.38 L507.60,248.38 L508.60,248.38 L509.60,248.37 L510.60,248.37 L511.60,248.36 L512.60,248.36 L513.60,248.36 L514.60,248.35 L515.60,248.35 L516.60,248.34 L517.60,248.33 L518.60,248.31 L519.60,248.29 L520.60,248.27 L521.60,248.25 L522.60,248.23 L523.60,248.20 L524.60,248.16 L525.60,248.09 L526.60,248.00 L527.60,247.88 L528.60,247.75 L529.60,247.61 L530.60,247.41 L531.60,247.17 L532.60,246.91 L533.60,246.64 L534.60,246.36 L535.60,246.01 L536.60,245.54 L537.60,244.91 L538.60,244.25 L539.60,243.57 L540.60,242.89 L541.60,242.20 L542.60,241.51 L543.60,240.83 L544.60,240.19 L545.60,239.61 L546.60,239.09 L547.60,238.65 L548.60,238.31 L549.60,238.06 L550.60,237.89 L551.60,237.77 L552.60,237.67 L553.60,237.55 L554.60,237.41 L555.60,237.25 L556.60,237.07 L557.60,236.88 L558.60,236.62 L559.60,236.30 L560.60,235.94 L561.60,235.56 L562.60,235.06 L563.60,234.46 L564.60,233.74 L565.60,232.74 L566.60,231.48 L567.60,230.00 L568.60,228.28 L569.60,226.29 L570.60,224.14 L571.60,221.89 L572.60,219.50 L573.60,217.00 L574.60,214.50 L575.60,212.00 L576.60,209.52 L577.60,207.11 L578.60,205.40 L579.60,204.29 L580.60,203.41 L581.60,202.68 L582.60,202.19 L583.60,202.00 L584.60,202.14 L585.60,202.60 L586.60,203.39 L587.60,204.51 L588.60,205.99 L589.60,207.86 L590.60,210.03 L591.60,212.62 L592.60,215.42 L593.60,218.30 L594.60,221.29 L595.60,224.32 L596.60,227.29 L597.60,230.07 L598.60,232.61 L599.60,234.92 L600.60,236.95 L601.60,238.73 L602.60,240.36 L603.60,241.89 L604.60,243.24 L605.60,244.28 L606.60,245.10 L607.60,245.78 L608.60,246.32 L609.60,246.75 L610.60,247.15 L611.60,247.50 L612.60,247.77 L613.60,247.99 L614.60,248.16 L615.00,248.20 L615.00,248.40 L372.60,248.40 Z" fill="rgb(217,52,52)" fill-opacity="0.22" stroke="none"/>
<path d="M387.20,248.40 L546.20,248.40 L546.20,238.15 L556.80,238.15 L556.80,248.40 L578.00,248.40 L578.00,202.50 L588.60,202.50 L588.60,248.40 L599.60,248.40 Z" fill="rgb(217,52,52)" fill-opacity="0.43" stroke="none"/>
<path d="M387.20,248.40 L546.20,248.40 L546.20,238.15 L556.80,238.15 L556.80,248.40 L578.00,248.40 L578.00,202.50 L588.60,202.50 L588.60,248.40 L599.60,248.40" fill="none" stroke="#000" stroke-opacity="0.8" stroke-width="1" stroke-linejoin="miter"/>
<path d="M372.60,248.40 L373.60,248.40 L374.60,248.40 L375.60,248.40 L376.60,248.40 L377.60,248.40 L378.60,248.40 L379.60,248.40 L380.60,248.40 L381.60,248.40 L382.60,248.40 L383.60,248.40 L384.60,248.40 L385.60,248.40 L386.60,248.40 L387.60,248.40 L388.60,248.40 L389.60,248.40 L390.60,248.40 L391.60,248.40 L392.60,248.40 L393.60,248.40 L394.60,248.40 L395.60,248.40 L396.60,248.40 L397.60,248.40 L398.60,248.40 L399.60,248.40 L400.60,248.40 L401.60,248.40 L402.60,248.40 L403.60,248.40 L404.60,248.40 L405.60,248.40 L406.60,248.40 L407.60,248.40 L408.60,248.40 L409.60,248.40 L410.60,248.40 L411.60,248.40 L412.60,248.40 L413.60,248.40 L414.60,248.40 L415.60,248.40 L416.60,248.40 L417.60,248.40 L418.60,248.40 L419.60,248.40 L420.60,248.40 L421.60,248.40 L422.60,248.40 L423.60,248.40 L424.60,248.40 L425.60,248.40 L426.60,248.40 L427.60,248.40 L428.60,248.40 L429.60,248.40 L430.60,248.40 L431.60,248.40 L432.60,248.40 L433.60,248.40 L434.60,248.40 L435.60,248.40 L436.60,248.40 L437.60,248.40 L438.60,248.40 L439.60,248.40 L440.60,248.40 L441.60,248.40 L442.60,248.40 L443.60,248.40 L444.60,248.40 L445.60,248.40 L446.60,248.40 L447.60,248.40 L448.60,248.40 L449.60,248.40 L450.60,248.40 L451.60,248.40 L452.60,248.40 L453.60,248.40 L454.60,248.40 L455.60,248.40 L456.60,248.40 L457.60,248.40 L458.60,248.40 L459.60,248.40 L460.60,248.40 L461.60,248.40 L462.60,248.40 L463.60,248.40 L464.60,248.40 L465.60,248.40 L466.60,248.40 L467.60,248.40 L468.60,248.40 L469.60,248.40 L470.60,248.40 L471.60,248.40 L472.60,248.40 L473.60,248.40 L474.60,248.40 L475.60,248.40 L476.60,248.40 L477.60,248.40 L478.60,248.40 L479.60,248.40 L480.60,248.40 L481.60,248.40 L482.60,248.40 L483.60,248.40 L484.60,248.40 L485.60,248.40 L486.60,248.40 L487.60,248.40 L488.60,248.40 L489.60,248.40 L490.60,248.40 L491.60,248.40 L492.60,248.40 L493.60,248.40 L494.60,248.40 L495.60,248.40 L496.60,248.40 L497.60,248.40 L498.60,248.40 L499.60,248.40 L500.60,248.40 L501.60,248.40 L502.60,248.40 L503.60,248.39 L504.60,248.39 L505.60,248.39 L506.60,248.38 L507.60,248.38 L508.60,248.38 L509.60,248.37 L510.60,248.37 L511.60,248.36 L512.60,248.36 L513.60,248.36 L514.60,248.35 L515.60,248.35 L516.60,248.34 L517.60,248.33 L518.60,248.31 L519.60,248.29 L520.60,248.27 L521.60,248.25 L522.60,248.23 L523.60,248.20 L524.60,248.16 L525.60,248.09 L526.60,248.00 L527.60,247.88 L528.60,247.75 L529.60,247.61 L530.60,247.41 L531.60,247.17 L532.60,246.91 L533.60,246.64 L534.60,246.36 L535.60,246.01 L536.60,245.54 L537.60,244.91 L538.60,244.25 L539.60,243.57 L540.60,242.89 L541.60,242.20 L542.60,241.51 L543.60,240.83 L544.60,240.19 L545.60,239.61 L546.60,239.09 L547.60,238.65 L548.60,238.31 L549.60,238.06 L550.60,237.89 L551.60,237.77 L552.60,237.67 L553.60,237.55 L554.60,237.41 L555.60,237.25 L556.60,237.07 L557.60,236.88 L558.60,236.62 L559.60,236.30 L560.60,235.94 L561.60,235.56 L562.60,235.06 L563.60,234.46 L564.60,233.74 L565.60,232.74 L566.60,231.48 L567.60,230.00 L568.60,228.28 L569.60,226.29 L570.60,224.14 L571.60,221.89 L572.60,219.50 L573.60,217.00 L574.60,214.50 L575.60,212.00 L576.60,209.52 L577.60,207.11 L578.60,205.40 L579.60,204.29 L580.60,203.41 L581.60,202.68 L582.60,202.19 L583.60,202.00 L584.60,202.14 L585.60,202.60 L586.60,203.39 L587.60,204.51 L588.60,205.99 L589.60,207.86 L590.60,210.03 L591.60,212.62 L592.60,215.42 L593.60,218.30 L594.60,221.29 L595.60,224.32 L596.60,227.29 L597.60,230.07 L598.60,232.61 L599.60,234.92 L600.60,236.95 L601.60,238.73 L602.60,240.36 L603.60,241.89 L604.60,243.24 L605.60,244.28 L606.60,245.10 L607.60,245.78 L608.60,246.32 L609.60,246.75 L610.60,247.15 L611.60,247.50 L612.60,247.77 L613.60,247.99 L614.60,248.16 L615.00,248.20" fill="none" stroke="#111" stroke-width="1.05" stroke-linejoin="round"/>
<path d="M37.5,1 V254.5 H309" fill="none" stroke="#333" stroke-width="1"/>
<line x1="34.5" x2="37.5" y1="45.3" y2="45.3" stroke="#333" stroke-width="1"/>
<text transform="translate(28.8,48.8) scale(1.12,1)" text-anchor="end" class="tk">1</text>
<line x1="34.5" x2="37.5" y1="95.2" y2="95.2" stroke="#333" stroke-width="1"/>
<text transform="translate(28.8,98.7) scale(1.12,1)" text-anchor="end" class="tk">2</text>
<line x1="34.5" x2="37.5" y1="144.85" y2="144.85" stroke="#333" stroke-width="1"/>
<text transform="translate(28.8,148.3) scale(1.12,1)" text-anchor="end" class="tk">3</text>
<line x1="34.5" x2="37.5" y1="194.6" y2="194.6" stroke="#333" stroke-width="1"/>
<text transform="translate(28.8,198.1) scale(1.12,1)" text-anchor="end" class="tk">4</text>
<line x1="34.5" x2="37.5" y1="244.4" y2="244.4" stroke="#333" stroke-width="1"/>
<text transform="translate(28.8,247.9) scale(1.12,1)" text-anchor="end" class="tk">5</text>
<line x1="71.7" x2="71.7" y1="254.5" y2="257.6" stroke="#333" stroke-width="1"/>
<text transform="translate(71.7,272.3) scale(1.12,1)" text-anchor="middle" class="tk">0</text>
<line x1="126.6" x2="126.6" y1="254.5" y2="257.6" stroke="#333" stroke-width="1"/>
<text transform="translate(126.6,272.3) scale(1.12,1)" text-anchor="middle" class="tk">50</text>
<line x1="181.5" x2="181.5" y1="254.5" y2="257.6" stroke="#333" stroke-width="1"/>
<text transform="translate(181.5,272.3) scale(1.12,1)" text-anchor="middle" class="tk">100</text>
<line x1="236.4" x2="236.4" y1="254.5" y2="257.6" stroke="#333" stroke-width="1"/>
<text transform="translate(236.4,272.3) scale(1.12,1)" text-anchor="middle" class="tk">150</text>
<line x1="291.3" x2="291.3" y1="254.5" y2="257.6" stroke="#333" stroke-width="1"/>
<text transform="translate(291.3,272.3) scale(1.12,1)" text-anchor="middle" class="tk">200</text>
<text transform="translate(172.8,294.5) scale(0.955,1)" text-anchor="middle" class="ttl" style="font-size:15.3px">Token</text>
<text transform="translate(10.7,127.2) rotate(-90) scale(1.065,0.92)" text-anchor="middle" class="ttl" style="font-size:14px">MLU-w</text>
<path d="M369.6,26 V258.5 H617" fill="none" stroke="#333" stroke-width="1"/>
<line x1="366.3" x2="369.6" y1="43.0" y2="43.0" stroke="#333" stroke-width="1"/>
<text transform="translate(362.4,46.5) scale(1.12,1)" text-anchor="end" class="tk">1</text>
<line x1="366.3" x2="369.6" y1="94.4" y2="94.4" stroke="#333" stroke-width="1"/>
<text transform="translate(362.4,97.9) scale(1.12,1)" text-anchor="end" class="tk">2</text>
<line x1="366.3" x2="369.6" y1="145.7" y2="145.7" stroke="#333" stroke-width="1"/>
<text transform="translate(362.4,149.2) scale(1.12,1)" text-anchor="end" class="tk">3</text>
<line x1="366.3" x2="369.6" y1="197.1" y2="197.1" stroke="#333" stroke-width="1"/>
<text transform="translate(362.4,200.6) scale(1.12,1)" text-anchor="end" class="tk">4</text>
<line x1="366.3" x2="369.6" y1="248.4" y2="248.4" stroke="#333" stroke-width="1"/>
<text transform="translate(362.4,251.9) scale(1.12,1)" text-anchor="end" class="tk">5</text>
<line x1="403.3" x2="403.3" y1="258.5" y2="261.8" stroke="#333" stroke-width="1"/>
<text transform="translate(403.3,275.4) scale(1.12,1)" text-anchor="middle" class="tk">0.0</text>
<line x1="478.5" x2="478.5" y1="258.5" y2="261.8" stroke="#333" stroke-width="1"/>
<text transform="translate(478.5,275.4) scale(1.12,1)" text-anchor="middle" class="tk">2.5</text>
<line x1="553.6" x2="553.6" y1="258.5" y2="261.8" stroke="#333" stroke-width="1"/>
<text transform="translate(553.6,275.4) scale(1.12,1)" text-anchor="middle" class="tk">5.0</text>
<text transform="translate(493.8,295.6) scale(0.96,1)" text-anchor="middle" class="ttl" style="font-size:14px">Types</text>
<text transform="translate(346.4,141.7) rotate(-90) scale(1.07,0.95)" text-anchor="middle" class="ttl" style="font-size:13px">MLU-w</text>
<text x="648" y="215.8" class="lt">MLU-w</text>
<rect x="648" y="223.35" width="11.6" height="11.6" fill="rgb(169,196,245)" stroke="#2b2b2b" stroke-width="0.95"/>
<text transform="translate(666,232.8) scale(1.1,1)" class="tk">1</text>
<rect x="648" y="235.65" width="11.6" height="11.6" fill="rgb(204,204,204)" stroke="#2b2b2b" stroke-width="0.95"/>
<text transform="translate(666,245.1) scale(1.1,1)" class="tk">2</text>
<rect x="648" y="247.95" width="11.6" height="11.6" fill="rgb(250,212,141)" stroke="#2b2b2b" stroke-width="0.95"/>
<text transform="translate(666,257.4) scale(1.1,1)" class="tk">3</text>
<rect x="648" y="260.25" width="11.6" height="11.6" fill="rgb(138,197,138)" stroke="#2b2b2b" stroke-width="0.95"/>
<text transform="translate(666,269.7) scale(1.1,1)" class="tk">4</text>
<rect x="648" y="272.55" width="11.6" height="11.6" fill="rgb(234,142,142)" stroke="#2b2b2b" stroke-width="0.95"/>
<text transform="translate(666,282.0) scale(1.1,1)" class="tk">5</text>
</svg>
</body></html>
